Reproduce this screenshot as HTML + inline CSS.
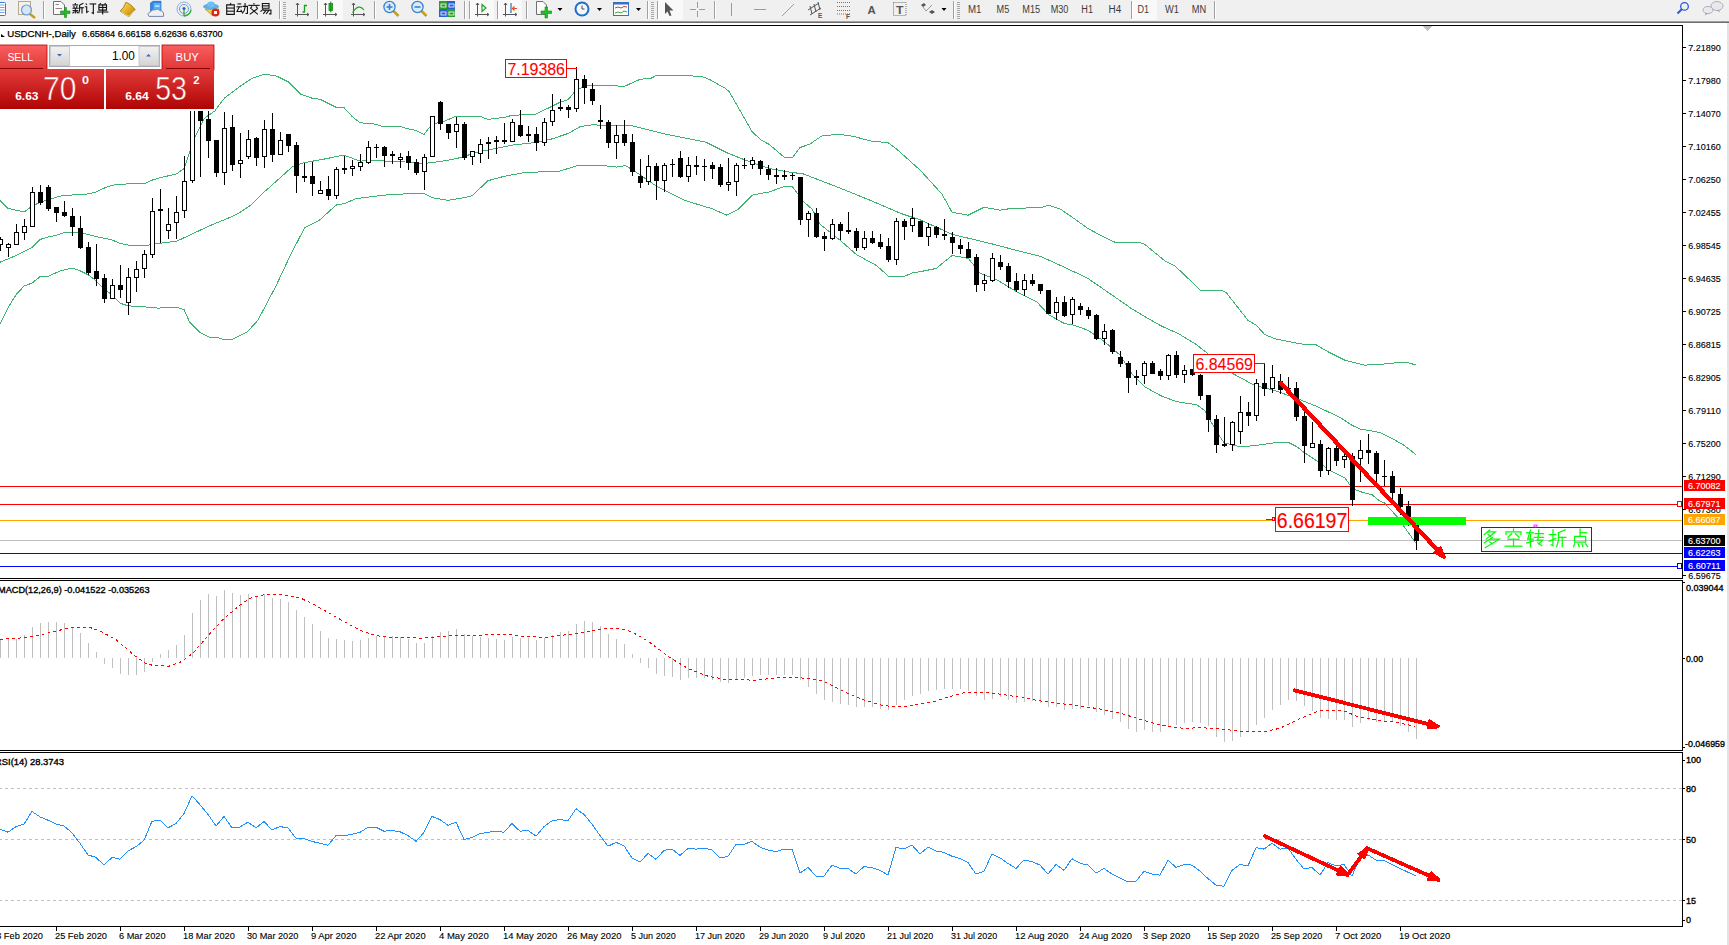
<!DOCTYPE html><html><head><meta charset="utf-8"><style>
html,body{margin:0;padding:0;width:1729px;height:945px;overflow:hidden;background:#fff;}
body{font-family:"Liberation Sans", sans-serif;position:relative;}
.t{position:absolute;white-space:nowrap;line-height:1;}
</style></head><body>
<svg width="1729" height="945" viewBox="0 0 1729 945" style="position:absolute;left:0;top:0">
<rect x="0" y="0" width="1729" height="21" fill="#f0f0f0"/>
<rect x="0" y="21" width="1729" height="1" fill="#a0a0a0"/>
<rect x="0" y="22" width="1729" height="1" fill="#6d6d6d"/>
<rect x="1727" y="23" width="2" height="922" fill="#e3e3e3"/>
<g shape-rendering="crispEdges">
<rect x="0" y="25" width="1683" height="1" fill="#000"/>
<path d="M1422.5,26 L1432.5,26 L1427.5,31 Z" fill="#c0c0c0"/>
<rect x="0" y="578" width="1683" height="1" fill="#000"/>
<rect x="0" y="580" width="1683" height="1" fill="#000"/>
<rect x="0" y="750" width="1683" height="1" fill="#000"/>
<rect x="0" y="752" width="1683" height="1" fill="#000"/>
<rect x="0" y="926" width="1683" height="1" fill="#000"/>
<rect x="1682" y="25" width="1" height="554" fill="#000"/>
<rect x="1682" y="580" width="1" height="171" fill="#000"/>
<rect x="1682" y="752" width="1" height="175" fill="#000"/>
<rect x="0" y="486" width="1682" height="1" fill="#ff0000"/>
<rect x="0" y="504" width="1682" height="1" fill="#ff0000"/>
<rect x="0" y="520" width="1682" height="1" fill="#ffa500"/>
<rect x="0" y="540" width="1682" height="1" fill="#c0c0c0"/>
<rect x="0" y="553" width="1682" height="1" fill="#0000ff"/>
<rect x="0" y="566" width="1682" height="1" fill="#0000ff"/>
<rect x="1677.5" y="501.5" width="4" height="5" fill="#fff" stroke="#ff0000" stroke-width="1"/>
<rect x="1677.5" y="563.5" width="4" height="5" fill="#fff" stroke="#0000ff" stroke-width="1"/>
</g>
<defs><clipPath id="cm"><rect x="0" y="26" width="1682" height="552"/></clipPath>
<clipPath id="cmacd"><rect x="0" y="581" width="1682" height="169"/></clipPath>
<clipPath id="crsi"><rect x="0" y="753" width="1682" height="173"/></clipPath></defs>
<g clip-path="url(#cm)" fill="none" stroke="#3cb371" stroke-width="1" shape-rendering="crispEdges">
<polyline points="0.0,200.3 8.0,208.3 24.0,212.0 32.0,206.3 40.0,202.3 56.0,197.3 64.0,195.3 80.0,194.7 88.0,193.9 96.0,191.9 104.0,188.2 112.0,185.2 128.0,183.8 144.0,183.8 152.0,180.2 160.0,177.6 176.0,174.2 184.2,168.5 190.2,150.5 195.2,136.4 204.3,118.3 214.3,111.3 224.4,98.2 240.4,86.1 252.5,78.1 264.6,74.1 276.6,76.1 288.7,82.1 300.7,94.2 312.0,98.2 320.0,99.2 336.0,107.2 344.0,107.6 352.0,116.3 360.0,122.9 372.0,123.3 384.0,126.9 400.0,126.3 408.0,128.9 416.0,130.4 424.0,134.4 432.0,124.3 444.0,121.3 456.0,116.3 480.0,116.4 488.0,119.4 504.0,117.4 512.0,115.4 536.0,114.0 552.0,106.3 560.0,102.3 568.0,99.7 576.0,90.3 584.0,86.6 592.0,85.2 621.0,86.1 625.0,86.1 640.0,79.3 651.0,78.3 657.0,75.1 668.0,75.1 676.0,75.5 685.0,75.5 702.0,76.6 710.0,79.7 725.0,88.2 729.0,91.4 740.0,110.4 752.0,131.6 761.0,140.0 769.0,144.3 784.0,157.0 793.0,157.0 800.0,147.5 809.5,144.3 822.0,135.8 839.0,134.3 854.0,136.5 871.0,141.1 888.0,142.6 896.0,148.5 920.0,170.0 942.0,194.1 952.0,212.2 968.0,215.2 984.0,207.2 1000.0,210.2 1012.5,208.2 1040.6,207.8 1048.7,205.2 1060.7,209.3 1071.8,216.9 1087.1,227.9 1100.6,235.5 1115.9,242.7 1131.1,242.7 1137.9,242.0 1144.6,244.3 1164.9,260.9 1175.1,266.0 1200.5,290.2 1222.5,290.9 1225.9,292.2 1247.9,320.2 1256.3,325.3 1264.8,334.6 1275.0,338.8 1300.0,343.9 1316.5,345.0 1328.6,352.1 1344.6,360.1 1364.7,365.1 1380.2,364.5 1392.3,363.1 1406.3,362.1 1416.0,365.1"/>
<polyline points="0.0,262.2 16.0,255.6 32.0,247.5 40.0,239.5 48.0,237.0 56.0,235.5 64.0,232.5 76.0,232.5 84.0,233.5 96.0,236.5 112.0,239.9 120.0,243.5 128.0,245.0 144.0,246.0 155.4,243.8 177.0,241.1 209.3,225.9 229.1,217.8 239.9,212.4 250.7,205.2 261.5,194.4 277.7,180.0 292.7,166.5 304.8,162.5 320.0,159.9 344.0,155.1 360.0,161.1 376.0,160.5 392.0,161.5 408.0,162.1 424.0,163.5 440.7,161.5 456.8,158.5 480.0,151.6 496.0,148.5 512.0,145.1 536.0,142.5 552.0,138.9 568.0,133.5 580.6,126.4 592.7,124.8 604.7,125.4 631.7,125.7 663.5,133.7 705.8,142.2 727.0,152.8 748.1,161.2 769.3,168.6 790.5,172.2 803.2,173.9 840.4,188.2 872.6,201.3 900.7,213.4 920.0,219.8 952.2,234.3 992.4,244.0 1016.5,250.4 1040.6,256.4 1060.0,265.2 1087.1,277.9 1114.2,296.5 1131.1,308.3 1148.0,318.5 1161.6,326.1 1178.5,333.7 1195.4,343.9 1207.3,353.2 1232.1,373.2 1254.2,385.2 1274.3,390.3 1296.4,398.3 1316.5,406.3 1340.0,417.4 1352.1,425.4 1360.1,429.0 1380.2,432.5 1392.3,438.5 1404.3,445.5 1416.0,454.6"/>
<polyline points="0.0,324.0 8.0,307.8 16.0,294.8 24.0,286.1 32.0,283.1 40.0,276.7 48.0,276.3 60.0,271.0 72.0,268.0 80.0,270.7 88.0,274.7 96.0,280.7 104.0,288.7 112.0,294.8 120.0,303.2 128.0,305.8 150.0,307.3 159.0,308.2 164.4,307.3 177.0,307.3 184.2,309.8 189.6,322.1 200.4,332.9 209.3,337.3 218.3,337.9 225.5,340.0 232.7,339.1 247.1,332.0 257.9,320.3 275.9,286.1 290.3,255.5 304.6,227.7 320.0,219.8 336.0,205.1 344.0,203.7 356.0,198.7 384.0,195.1 408.0,193.7 424.0,193.3 432.0,197.7 448.0,200.3 464.0,197.7 472.0,195.8 488.0,180.7 504.0,176.3 524.0,172.7 544.0,171.7 560.0,171.1 576.0,166.0 600.0,165.3 616.9,167.1 625.4,165.5 633.9,170.7 657.1,186.6 684.7,200.4 712.2,208.8 727.0,215.2 737.6,209.9 752.4,195.1 769.3,191.9 784.1,186.6 792.4,186.6 798.2,194.3 804.2,202.3 812.3,209.3 820.3,224.4 840.4,240.5 856.5,254.6 876.6,265.6 888.6,276.3 904.7,276.3 912.8,272.7 920.0,271.7 936.1,268.5 952.2,255.4 968.3,258.4 980.3,273.5 996.4,279.5 1016.5,291.6 1036.6,301.7 1048.7,314.7 1064.8,323.8 1072.0,324.5 1088.1,330.3 1104.2,341.4 1120.3,355.4 1132.3,374.5 1144.4,386.6 1160.5,395.6 1176.6,401.7 1196.7,404.7 1204.7,410.7 1216.8,432.0 1224.0,442.7 1240.1,446.9 1256.2,445.5 1276.3,442.5 1288.4,442.5 1296.4,446.5 1304.4,452.6 1316.5,460.6 1328.6,469.6 1344.6,477.7 1352.7,488.7 1360.7,491.8 1372.2,494.8 1380.0,501.2 1384.2,502.8 1396.9,516.4 1402.8,524.8 1415.5,542.6"/>
</g>
<g clip-path="url(#cm)" shape-rendering="crispEdges">
<rect x="0" y="237" width="1" height="14" fill="#000"/>
<rect x="-1.5" y="239.5" width="4" height="5" fill="#fff" stroke="#000" stroke-width="1"/>
<rect x="8" y="243" width="1" height="14" fill="#000"/>
<rect x="6.5" y="244.5" width="4" height="3" fill="#fff" stroke="#000" stroke-width="1"/>
<rect x="16" y="224" width="1" height="21" fill="#000"/>
<rect x="14.5" y="232.5" width="4" height="12" fill="#fff" stroke="#000" stroke-width="1"/>
<rect x="24" y="219" width="1" height="21" fill="#000"/>
<rect x="22.5" y="226.5" width="4" height="6" fill="#fff" stroke="#000" stroke-width="1"/>
<rect x="32" y="187" width="1" height="40" fill="#000"/>
<rect x="30.5" y="192.5" width="4" height="34" fill="#fff" stroke="#000" stroke-width="1"/>
<rect x="40" y="185" width="1" height="20" fill="#000"/>
<rect x="38" y="192" width="5" height="11" fill="#000"/>
<rect x="48" y="185" width="1" height="26" fill="#000"/>
<rect x="46" y="187" width="5" height="22" fill="#000"/>
<rect x="56" y="207" width="1" height="15" fill="#000"/>
<rect x="54" y="207" width="5" height="6" fill="#000"/>
<rect x="64" y="201" width="1" height="16" fill="#000"/>
<rect x="62" y="212" width="5" height="4" fill="#000"/>
<rect x="72" y="208" width="1" height="28" fill="#000"/>
<rect x="70" y="216" width="5" height="11" fill="#000"/>
<rect x="80" y="216" width="1" height="33" fill="#000"/>
<rect x="78" y="228" width="5" height="20" fill="#000"/>
<rect x="88" y="242" width="1" height="33" fill="#000"/>
<rect x="86" y="247" width="5" height="26" fill="#000"/>
<rect x="96" y="244" width="1" height="42" fill="#000"/>
<rect x="94" y="271" width="5" height="8" fill="#000"/>
<rect x="104" y="274" width="1" height="29" fill="#000"/>
<rect x="102" y="278" width="5" height="21" fill="#000"/>
<rect x="112" y="279" width="1" height="20" fill="#000"/>
<rect x="110.5" y="285.5" width="4" height="13" fill="#fff" stroke="#000" stroke-width="1"/>
<rect x="120" y="265" width="1" height="33" fill="#000"/>
<rect x="118" y="285" width="5" height="5" fill="#000"/>
<rect x="128" y="268" width="1" height="47" fill="#000"/>
<rect x="126.5" y="277.5" width="4" height="25" fill="#fff" stroke="#000" stroke-width="1"/>
<rect x="136" y="261" width="1" height="31" fill="#000"/>
<rect x="134.5" y="269.5" width="4" height="8" fill="#fff" stroke="#000" stroke-width="1"/>
<rect x="144" y="250" width="1" height="28" fill="#000"/>
<rect x="142.5" y="254.5" width="4" height="14" fill="#fff" stroke="#000" stroke-width="1"/>
<rect x="152" y="198" width="1" height="60" fill="#000"/>
<rect x="150.5" y="211.5" width="4" height="43" fill="#fff" stroke="#000" stroke-width="1"/>
<rect x="160" y="189" width="1" height="54" fill="#000"/>
<rect x="158" y="209" width="5" height="2" fill="#000"/>
<rect x="168" y="208" width="1" height="31" fill="#000"/>
<rect x="166.5" y="224.5" width="4" height="6" fill="#fff" stroke="#000" stroke-width="1"/>
<rect x="176" y="196" width="1" height="43" fill="#000"/>
<rect x="174.5" y="212.5" width="4" height="10" fill="#fff" stroke="#000" stroke-width="1"/>
<rect x="184" y="156" width="1" height="62" fill="#000"/>
<rect x="182.5" y="181.5" width="4" height="29" fill="#fff" stroke="#000" stroke-width="1"/>
<rect x="192" y="92" width="1" height="91" fill="#000"/>
<rect x="190.5" y="98.5" width="4" height="82" fill="#fff" stroke="#000" stroke-width="1"/>
<rect x="200" y="90" width="1" height="87" fill="#000"/>
<rect x="198" y="96" width="5" height="25" fill="#000"/>
<rect x="208" y="111" width="1" height="47" fill="#000"/>
<rect x="206" y="119" width="5" height="22" fill="#000"/>
<rect x="216" y="140" width="1" height="37" fill="#000"/>
<rect x="214" y="140" width="5" height="33" fill="#000"/>
<rect x="224" y="112" width="1" height="73" fill="#000"/>
<rect x="222.5" y="128.5" width="4" height="44" fill="#fff" stroke="#000" stroke-width="1"/>
<rect x="232" y="115" width="1" height="56" fill="#000"/>
<rect x="230" y="127" width="5" height="38" fill="#000"/>
<rect x="240" y="133" width="1" height="45" fill="#000"/>
<rect x="238.5" y="160.5" width="4" height="3" fill="#fff" stroke="#000" stroke-width="1"/>
<rect x="248" y="130" width="1" height="29" fill="#000"/>
<rect x="246.5" y="139.5" width="4" height="17" fill="#fff" stroke="#000" stroke-width="1"/>
<rect x="256" y="137" width="1" height="29" fill="#000"/>
<rect x="254" y="138" width="5" height="20" fill="#000"/>
<rect x="264" y="120" width="1" height="48" fill="#000"/>
<rect x="262.5" y="129.5" width="4" height="27" fill="#fff" stroke="#000" stroke-width="1"/>
<rect x="272" y="113" width="1" height="49" fill="#000"/>
<rect x="270" y="129" width="5" height="26" fill="#000"/>
<rect x="280" y="132" width="1" height="23" fill="#000"/>
<rect x="278.5" y="140.5" width="4" height="14" fill="#fff" stroke="#000" stroke-width="1"/>
<rect x="288" y="134" width="1" height="18" fill="#000"/>
<rect x="286" y="134" width="5" height="12" fill="#000"/>
<rect x="296" y="142" width="1" height="51" fill="#000"/>
<rect x="294" y="145" width="5" height="31" fill="#000"/>
<rect x="304" y="163" width="1" height="19" fill="#000"/>
<rect x="302" y="176" width="5" height="2" fill="#000"/>
<rect x="312" y="162" width="1" height="34" fill="#000"/>
<rect x="310" y="176" width="5" height="8" fill="#000"/>
<rect x="320" y="181" width="1" height="13" fill="#000"/>
<rect x="318.5" y="190.5" width="4" height="3" fill="#fff" stroke="#000" stroke-width="1"/>
<rect x="328" y="176" width="1" height="24" fill="#000"/>
<rect x="326" y="189" width="5" height="7" fill="#000"/>
<rect x="336" y="167" width="1" height="32" fill="#000"/>
<rect x="334.5" y="169.5" width="4" height="26" fill="#fff" stroke="#000" stroke-width="1"/>
<rect x="344" y="156" width="1" height="18" fill="#000"/>
<rect x="342" y="168" width="5" height="2" fill="#000"/>
<rect x="352" y="160" width="1" height="16" fill="#000"/>
<rect x="350.5" y="166.5" width="4" height="2" fill="#fff" stroke="#000" stroke-width="1"/>
<rect x="360" y="154" width="1" height="17" fill="#000"/>
<rect x="358.5" y="162.5" width="4" height="4" fill="#fff" stroke="#000" stroke-width="1"/>
<rect x="368" y="141" width="1" height="23" fill="#000"/>
<rect x="366.5" y="147.5" width="4" height="15" fill="#fff" stroke="#000" stroke-width="1"/>
<rect x="376" y="144" width="1" height="14" fill="#000"/>
<rect x="374" y="147" width="5" height="1" fill="#000"/>
<rect x="384" y="146" width="1" height="21" fill="#000"/>
<rect x="382" y="147" width="5" height="9" fill="#000"/>
<rect x="392" y="151" width="1" height="13" fill="#000"/>
<rect x="390" y="154" width="5" height="2" fill="#000"/>
<rect x="400" y="153" width="1" height="15" fill="#000"/>
<rect x="398.5" y="157.5" width="4" height="2" fill="#fff" stroke="#000" stroke-width="1"/>
<rect x="408" y="151" width="1" height="19" fill="#000"/>
<rect x="406" y="156" width="5" height="7" fill="#000"/>
<rect x="416" y="159" width="1" height="16" fill="#000"/>
<rect x="414" y="162" width="5" height="11" fill="#000"/>
<rect x="424" y="154" width="1" height="36" fill="#000"/>
<rect x="422.5" y="157.5" width="4" height="14" fill="#fff" stroke="#000" stroke-width="1"/>
<rect x="432" y="116" width="1" height="41" fill="#000"/>
<rect x="430.5" y="116.5" width="4" height="40" fill="#fff" stroke="#000" stroke-width="1"/>
<rect x="440" y="101" width="1" height="29" fill="#000"/>
<rect x="438" y="102" width="5" height="22" fill="#000"/>
<rect x="448" y="124" width="1" height="15" fill="#000"/>
<rect x="446" y="124" width="5" height="9" fill="#000"/>
<rect x="456" y="117" width="1" height="31" fill="#000"/>
<rect x="454.5" y="124.5" width="4" height="7" fill="#fff" stroke="#000" stroke-width="1"/>
<rect x="464" y="122" width="1" height="38" fill="#000"/>
<rect x="462" y="124" width="5" height="34" fill="#000"/>
<rect x="472" y="151" width="1" height="14" fill="#000"/>
<rect x="470.5" y="151.5" width="4" height="5" fill="#fff" stroke="#000" stroke-width="1"/>
<rect x="480" y="139" width="1" height="24" fill="#000"/>
<rect x="478.5" y="144.5" width="4" height="9" fill="#fff" stroke="#000" stroke-width="1"/>
<rect x="488" y="137" width="1" height="22" fill="#000"/>
<rect x="486" y="142" width="5" height="2" fill="#000"/>
<rect x="496" y="136" width="1" height="18" fill="#000"/>
<rect x="494" y="140" width="5" height="2" fill="#000"/>
<rect x="504" y="123" width="1" height="21" fill="#000"/>
<rect x="502" y="140" width="5" height="2" fill="#000"/>
<rect x="512" y="119" width="1" height="23" fill="#000"/>
<rect x="510.5" y="122.5" width="4" height="19" fill="#fff" stroke="#000" stroke-width="1"/>
<rect x="520" y="110" width="1" height="27" fill="#000"/>
<rect x="518" y="125" width="5" height="11" fill="#000"/>
<rect x="528" y="126" width="1" height="16" fill="#000"/>
<rect x="526" y="134" width="5" height="2" fill="#000"/>
<rect x="536" y="127" width="1" height="24" fill="#000"/>
<rect x="534" y="134" width="5" height="9" fill="#000"/>
<rect x="544" y="118" width="1" height="28" fill="#000"/>
<rect x="542.5" y="122.5" width="4" height="20" fill="#fff" stroke="#000" stroke-width="1"/>
<rect x="552" y="94" width="1" height="32" fill="#000"/>
<rect x="550.5" y="110.5" width="4" height="11" fill="#fff" stroke="#000" stroke-width="1"/>
<rect x="560" y="99" width="1" height="12" fill="#000"/>
<rect x="558" y="107" width="5" height="2" fill="#000"/>
<rect x="568" y="105" width="1" height="13" fill="#000"/>
<rect x="566" y="107" width="5" height="3" fill="#000"/>
<rect x="576" y="67" width="1" height="45" fill="#000"/>
<rect x="574.5" y="79.5" width="4" height="29" fill="#fff" stroke="#000" stroke-width="1"/>
<rect x="584" y="75" width="1" height="29" fill="#000"/>
<rect x="582" y="79" width="5" height="9" fill="#000"/>
<rect x="592" y="83" width="1" height="22" fill="#000"/>
<rect x="590" y="89" width="5" height="12" fill="#000"/>
<rect x="600" y="105" width="1" height="24" fill="#000"/>
<rect x="598" y="120" width="5" height="2" fill="#000"/>
<rect x="608" y="120" width="1" height="28" fill="#000"/>
<rect x="606" y="122" width="5" height="21" fill="#000"/>
<rect x="616" y="125" width="1" height="34" fill="#000"/>
<rect x="614.5" y="135.5" width="4" height="7" fill="#fff" stroke="#000" stroke-width="1"/>
<rect x="624" y="120" width="1" height="26" fill="#000"/>
<rect x="622" y="134" width="5" height="9" fill="#000"/>
<rect x="632" y="134" width="1" height="42" fill="#000"/>
<rect x="630" y="142" width="5" height="30" fill="#000"/>
<rect x="640" y="159" width="1" height="29" fill="#000"/>
<rect x="638" y="176" width="5" height="7" fill="#000"/>
<rect x="648" y="155" width="1" height="30" fill="#000"/>
<rect x="646.5" y="166.5" width="4" height="15" fill="#fff" stroke="#000" stroke-width="1"/>
<rect x="656" y="163" width="1" height="37" fill="#000"/>
<rect x="654" y="166" width="5" height="15" fill="#000"/>
<rect x="664" y="163" width="1" height="29" fill="#000"/>
<rect x="662.5" y="165.5" width="4" height="15" fill="#fff" stroke="#000" stroke-width="1"/>
<rect x="672" y="159" width="1" height="18" fill="#000"/>
<rect x="670" y="164" width="5" height="1" fill="#000"/>
<rect x="680" y="151" width="1" height="27" fill="#000"/>
<rect x="678" y="158" width="5" height="19" fill="#000"/>
<rect x="688" y="157" width="1" height="25" fill="#000"/>
<rect x="686.5" y="165.5" width="4" height="11" fill="#fff" stroke="#000" stroke-width="1"/>
<rect x="696" y="156" width="1" height="19" fill="#000"/>
<rect x="694" y="165" width="5" height="2" fill="#000"/>
<rect x="704" y="159" width="1" height="22" fill="#000"/>
<rect x="702" y="166" width="5" height="1" fill="#000"/>
<rect x="712" y="162" width="1" height="17" fill="#000"/>
<rect x="710" y="165" width="5" height="4" fill="#000"/>
<rect x="720" y="164" width="1" height="23" fill="#000"/>
<rect x="718" y="167" width="5" height="18" fill="#000"/>
<rect x="728" y="158" width="1" height="33" fill="#000"/>
<rect x="726.5" y="182.5" width="4" height="2" fill="#fff" stroke="#000" stroke-width="1"/>
<rect x="736" y="163" width="1" height="33" fill="#000"/>
<rect x="734.5" y="165.5" width="4" height="16" fill="#fff" stroke="#000" stroke-width="1"/>
<rect x="744" y="158" width="1" height="11" fill="#000"/>
<rect x="742" y="165" width="5" height="1" fill="#000"/>
<rect x="752" y="157" width="1" height="12" fill="#000"/>
<rect x="750.5" y="160.5" width="4" height="4" fill="#fff" stroke="#000" stroke-width="1"/>
<rect x="760" y="160" width="1" height="15" fill="#000"/>
<rect x="758" y="161" width="5" height="8" fill="#000"/>
<rect x="768" y="165" width="1" height="15" fill="#000"/>
<rect x="766" y="169" width="5" height="6" fill="#000"/>
<rect x="776" y="168" width="1" height="16" fill="#000"/>
<rect x="774" y="175" width="5" height="2" fill="#000"/>
<rect x="784" y="170" width="1" height="10" fill="#000"/>
<rect x="782" y="175" width="5" height="2" fill="#000"/>
<rect x="792" y="173" width="1" height="7" fill="#000"/>
<rect x="790" y="175" width="5" height="1" fill="#000"/>
<rect x="800" y="177" width="1" height="48" fill="#000"/>
<rect x="798" y="177" width="5" height="43" fill="#000"/>
<rect x="808" y="211" width="1" height="26" fill="#000"/>
<rect x="806.5" y="213.5" width="4" height="6" fill="#fff" stroke="#000" stroke-width="1"/>
<rect x="816" y="208" width="1" height="30" fill="#000"/>
<rect x="814" y="213" width="5" height="24" fill="#000"/>
<rect x="824" y="232" width="1" height="19" fill="#000"/>
<rect x="822" y="236" width="5" height="3" fill="#000"/>
<rect x="832" y="219" width="1" height="21" fill="#000"/>
<rect x="830.5" y="224.5" width="4" height="14" fill="#fff" stroke="#000" stroke-width="1"/>
<rect x="840" y="222" width="1" height="18" fill="#000"/>
<rect x="838" y="224" width="5" height="7" fill="#000"/>
<rect x="848" y="212" width="1" height="22" fill="#000"/>
<rect x="846" y="230" width="5" height="2" fill="#000"/>
<rect x="856" y="228" width="1" height="23" fill="#000"/>
<rect x="854" y="231" width="5" height="17" fill="#000"/>
<rect x="864" y="231" width="1" height="19" fill="#000"/>
<rect x="862.5" y="238.5" width="4" height="9" fill="#fff" stroke="#000" stroke-width="1"/>
<rect x="872" y="231" width="1" height="13" fill="#000"/>
<rect x="870" y="238" width="5" height="5" fill="#000"/>
<rect x="880" y="234" width="1" height="15" fill="#000"/>
<rect x="878" y="242" width="5" height="5" fill="#000"/>
<rect x="888" y="238" width="1" height="24" fill="#000"/>
<rect x="886" y="246" width="5" height="14" fill="#000"/>
<rect x="896" y="218" width="1" height="47" fill="#000"/>
<rect x="894.5" y="221.5" width="4" height="38" fill="#fff" stroke="#000" stroke-width="1"/>
<rect x="904" y="219" width="1" height="21" fill="#000"/>
<rect x="902" y="221" width="5" height="6" fill="#000"/>
<rect x="912" y="208" width="1" height="24" fill="#000"/>
<rect x="910.5" y="218.5" width="4" height="7" fill="#fff" stroke="#000" stroke-width="1"/>
<rect x="920" y="221" width="1" height="16" fill="#000"/>
<rect x="918" y="221" width="5" height="16" fill="#000"/>
<rect x="928" y="223" width="1" height="23" fill="#000"/>
<rect x="926.5" y="227.5" width="4" height="9" fill="#fff" stroke="#000" stroke-width="1"/>
<rect x="936" y="226" width="1" height="12" fill="#000"/>
<rect x="934" y="227" width="5" height="8" fill="#000"/>
<rect x="944" y="219" width="1" height="21" fill="#000"/>
<rect x="942" y="234" width="5" height="2" fill="#000"/>
<rect x="952" y="232" width="1" height="22" fill="#000"/>
<rect x="950" y="237" width="5" height="6" fill="#000"/>
<rect x="960" y="239" width="1" height="15" fill="#000"/>
<rect x="958" y="245" width="5" height="4" fill="#000"/>
<rect x="968" y="242" width="1" height="16" fill="#000"/>
<rect x="966" y="249" width="5" height="9" fill="#000"/>
<rect x="976" y="254" width="1" height="38" fill="#000"/>
<rect x="974" y="257" width="5" height="28" fill="#000"/>
<rect x="984" y="274" width="1" height="17" fill="#000"/>
<rect x="982.5" y="280.5" width="4" height="3" fill="#fff" stroke="#000" stroke-width="1"/>
<rect x="992" y="253" width="1" height="29" fill="#000"/>
<rect x="990.5" y="258.5" width="4" height="22" fill="#fff" stroke="#000" stroke-width="1"/>
<rect x="1000" y="255" width="1" height="15" fill="#000"/>
<rect x="998" y="262" width="5" height="5" fill="#000"/>
<rect x="1008" y="263" width="1" height="25" fill="#000"/>
<rect x="1006" y="266" width="5" height="16" fill="#000"/>
<rect x="1016" y="273" width="1" height="19" fill="#000"/>
<rect x="1014" y="281" width="5" height="9" fill="#000"/>
<rect x="1024" y="274" width="1" height="22" fill="#000"/>
<rect x="1022.5" y="280.5" width="4" height="9" fill="#fff" stroke="#000" stroke-width="1"/>
<rect x="1032" y="274" width="1" height="12" fill="#000"/>
<rect x="1030" y="280" width="5" height="4" fill="#000"/>
<rect x="1040" y="284" width="1" height="10" fill="#000"/>
<rect x="1038" y="284" width="5" height="7" fill="#000"/>
<rect x="1048" y="290" width="1" height="24" fill="#000"/>
<rect x="1046" y="290" width="5" height="24" fill="#000"/>
<rect x="1056" y="297" width="1" height="23" fill="#000"/>
<rect x="1054.5" y="302.5" width="4" height="10" fill="#fff" stroke="#000" stroke-width="1"/>
<rect x="1064" y="296" width="1" height="21" fill="#000"/>
<rect x="1062" y="302" width="5" height="14" fill="#000"/>
<rect x="1072" y="297" width="1" height="27" fill="#000"/>
<rect x="1070.5" y="299.5" width="4" height="15" fill="#fff" stroke="#000" stroke-width="1"/>
<rect x="1080" y="303" width="1" height="12" fill="#000"/>
<rect x="1078" y="306" width="5" height="4" fill="#000"/>
<rect x="1088" y="307" width="1" height="12" fill="#000"/>
<rect x="1086" y="310" width="5" height="6" fill="#000"/>
<rect x="1096" y="314" width="1" height="26" fill="#000"/>
<rect x="1094" y="315" width="5" height="24" fill="#000"/>
<rect x="1104" y="324" width="1" height="21" fill="#000"/>
<rect x="1102.5" y="331.5" width="4" height="7" fill="#fff" stroke="#000" stroke-width="1"/>
<rect x="1112" y="329" width="1" height="25" fill="#000"/>
<rect x="1110" y="330" width="5" height="22" fill="#000"/>
<rect x="1120" y="351" width="1" height="16" fill="#000"/>
<rect x="1118" y="357" width="5" height="7" fill="#000"/>
<rect x="1128" y="361" width="1" height="32" fill="#000"/>
<rect x="1126" y="363" width="5" height="15" fill="#000"/>
<rect x="1136" y="370" width="1" height="15" fill="#000"/>
<rect x="1134" y="376" width="5" height="2" fill="#000"/>
<rect x="1144" y="361" width="1" height="23" fill="#000"/>
<rect x="1142.5" y="363.5" width="4" height="12" fill="#fff" stroke="#000" stroke-width="1"/>
<rect x="1152" y="361" width="1" height="13" fill="#000"/>
<rect x="1150" y="363" width="5" height="11" fill="#000"/>
<rect x="1160" y="369" width="1" height="11" fill="#000"/>
<rect x="1158" y="371" width="5" height="5" fill="#000"/>
<rect x="1168" y="354" width="1" height="26" fill="#000"/>
<rect x="1166.5" y="355.5" width="4" height="20" fill="#fff" stroke="#000" stroke-width="1"/>
<rect x="1176" y="351" width="1" height="27" fill="#000"/>
<rect x="1174" y="355" width="5" height="20" fill="#000"/>
<rect x="1184" y="365" width="1" height="18" fill="#000"/>
<rect x="1182.5" y="370.5" width="4" height="4" fill="#fff" stroke="#000" stroke-width="1"/>
<rect x="1192" y="369" width="1" height="7" fill="#000"/>
<rect x="1190" y="369" width="5" height="6" fill="#000"/>
<rect x="1200" y="374" width="1" height="26" fill="#000"/>
<rect x="1198" y="375" width="5" height="21" fill="#000"/>
<rect x="1208" y="395" width="1" height="37" fill="#000"/>
<rect x="1206" y="395" width="5" height="25" fill="#000"/>
<rect x="1216" y="415" width="1" height="38" fill="#000"/>
<rect x="1214" y="419" width="5" height="26" fill="#000"/>
<rect x="1224" y="417" width="1" height="30" fill="#000"/>
<rect x="1222" y="444" width="5" height="2" fill="#000"/>
<rect x="1232" y="421" width="1" height="30" fill="#000"/>
<rect x="1230.5" y="422.5" width="4" height="22" fill="#fff" stroke="#000" stroke-width="1"/>
<rect x="1240" y="396" width="1" height="48" fill="#000"/>
<rect x="1238.5" y="412.5" width="4" height="19" fill="#fff" stroke="#000" stroke-width="1"/>
<rect x="1248" y="402" width="1" height="24" fill="#000"/>
<rect x="1246" y="412" width="5" height="4" fill="#000"/>
<rect x="1256" y="379" width="1" height="42" fill="#000"/>
<rect x="1254.5" y="383.5" width="4" height="32" fill="#fff" stroke="#000" stroke-width="1"/>
<rect x="1264" y="364" width="1" height="32" fill="#000"/>
<rect x="1262" y="383" width="5" height="6" fill="#000"/>
<rect x="1272" y="365" width="1" height="28" fill="#000"/>
<rect x="1270.5" y="377.5" width="4" height="11" fill="#fff" stroke="#000" stroke-width="1"/>
<rect x="1280" y="374" width="1" height="20" fill="#000"/>
<rect x="1278" y="381" width="5" height="9" fill="#000"/>
<rect x="1288" y="377" width="1" height="12" fill="#000"/>
<rect x="1286" y="388" width="5" height="1" fill="#000"/>
<rect x="1296" y="382" width="1" height="39" fill="#000"/>
<rect x="1294" y="388" width="5" height="29" fill="#000"/>
<rect x="1304" y="411" width="1" height="52" fill="#000"/>
<rect x="1302" y="416" width="5" height="30" fill="#000"/>
<rect x="1312" y="422" width="1" height="26" fill="#000"/>
<rect x="1310.5" y="443.5" width="4" height="4" fill="#fff" stroke="#000" stroke-width="1"/>
<rect x="1320" y="440" width="1" height="37" fill="#000"/>
<rect x="1318" y="444" width="5" height="27" fill="#000"/>
<rect x="1328" y="447" width="1" height="28" fill="#000"/>
<rect x="1326.5" y="448.5" width="4" height="22" fill="#fff" stroke="#000" stroke-width="1"/>
<rect x="1336" y="445" width="1" height="21" fill="#000"/>
<rect x="1334" y="448" width="5" height="13" fill="#000"/>
<rect x="1344" y="448" width="1" height="20" fill="#000"/>
<rect x="1342.5" y="456.5" width="4" height="3" fill="#fff" stroke="#000" stroke-width="1"/>
<rect x="1352" y="453" width="1" height="53" fill="#000"/>
<rect x="1350" y="456" width="5" height="44" fill="#000"/>
<rect x="1360" y="440" width="1" height="42" fill="#000"/>
<rect x="1358.5" y="450.5" width="4" height="8" fill="#fff" stroke="#000" stroke-width="1"/>
<rect x="1368" y="434" width="1" height="30" fill="#000"/>
<rect x="1366" y="450" width="5" height="3" fill="#000"/>
<rect x="1376" y="451" width="1" height="32" fill="#000"/>
<rect x="1374" y="453" width="5" height="21" fill="#000"/>
<rect x="1384" y="460" width="1" height="26" fill="#000"/>
<rect x="1382" y="476" width="5" height="1" fill="#000"/>
<rect x="1392" y="471" width="1" height="28" fill="#000"/>
<rect x="1390" y="476" width="5" height="17" fill="#000"/>
<rect x="1400" y="488" width="1" height="27" fill="#000"/>
<rect x="1398" y="494" width="5" height="13" fill="#000"/>
<rect x="1408" y="501" width="1" height="25" fill="#000"/>
<rect x="1406" y="506" width="5" height="11" fill="#000"/>
<rect x="1416" y="520" width="1" height="30" fill="#000"/>
<rect x="1414" y="525" width="5" height="16" fill="#000"/>
</g>
<g clip-path="url(#cmacd)" shape-rendering="crispEdges" fill="#c0c0c0">
<rect x="0" y="640" width="1" height="18"/>
<rect x="8" y="639" width="1" height="19"/>
<rect x="16" y="639" width="1" height="19"/>
<rect x="24" y="635" width="1" height="23"/>
<rect x="32" y="627" width="1" height="31"/>
<rect x="40" y="623" width="1" height="35"/>
<rect x="48" y="622" width="1" height="36"/>
<rect x="56" y="622" width="1" height="36"/>
<rect x="64" y="623" width="1" height="35"/>
<rect x="72" y="628" width="1" height="30"/>
<rect x="80" y="633" width="1" height="25"/>
<rect x="88" y="643" width="1" height="15"/>
<rect x="96" y="652" width="1" height="6"/>
<rect x="104" y="658" width="1" height="6"/>
<rect x="112" y="658" width="1" height="10"/>
<rect x="120" y="658" width="1" height="16"/>
<rect x="128" y="658" width="1" height="17"/>
<rect x="136" y="658" width="1" height="17"/>
<rect x="144" y="658" width="1" height="14"/>
<rect x="152" y="658" width="1" height="4"/>
<rect x="160" y="654" width="1" height="4"/>
<rect x="168" y="650" width="1" height="8"/>
<rect x="176" y="645" width="1" height="13"/>
<rect x="184" y="635" width="1" height="23"/>
<rect x="192" y="613" width="1" height="45"/>
<rect x="200" y="600" width="1" height="58"/>
<rect x="208" y="594" width="1" height="64"/>
<rect x="216" y="596" width="1" height="62"/>
<rect x="224" y="590" width="1" height="68"/>
<rect x="232" y="593" width="1" height="65"/>
<rect x="240" y="595" width="1" height="63"/>
<rect x="248" y="594" width="1" height="64"/>
<rect x="256" y="596" width="1" height="62"/>
<rect x="264" y="594" width="1" height="64"/>
<rect x="272" y="598" width="1" height="60"/>
<rect x="280" y="599" width="1" height="59"/>
<rect x="288" y="602" width="1" height="56"/>
<rect x="296" y="610" width="1" height="48"/>
<rect x="304" y="617" width="1" height="41"/>
<rect x="312" y="624" width="1" height="34"/>
<rect x="320" y="631" width="1" height="27"/>
<rect x="328" y="638" width="1" height="20"/>
<rect x="336" y="639" width="1" height="19"/>
<rect x="344" y="640" width="1" height="18"/>
<rect x="352" y="641" width="1" height="17"/>
<rect x="360" y="640" width="1" height="18"/>
<rect x="368" y="638" width="1" height="20"/>
<rect x="376" y="636" width="1" height="22"/>
<rect x="384" y="636" width="1" height="22"/>
<rect x="392" y="636" width="1" height="22"/>
<rect x="400" y="637" width="1" height="21"/>
<rect x="408" y="639" width="1" height="19"/>
<rect x="416" y="643" width="1" height="15"/>
<rect x="424" y="643" width="1" height="15"/>
<rect x="432" y="636" width="1" height="22"/>
<rect x="440" y="632" width="1" height="26"/>
<rect x="448" y="631" width="1" height="27"/>
<rect x="456" y="629" width="1" height="29"/>
<rect x="464" y="634" width="1" height="24"/>
<rect x="472" y="636" width="1" height="22"/>
<rect x="480" y="637" width="1" height="21"/>
<rect x="488" y="638" width="1" height="20"/>
<rect x="496" y="639" width="1" height="19"/>
<rect x="504" y="640" width="1" height="18"/>
<rect x="512" y="637" width="1" height="21"/>
<rect x="520" y="638" width="1" height="20"/>
<rect x="528" y="638" width="1" height="20"/>
<rect x="536" y="640" width="1" height="18"/>
<rect x="544" y="638" width="1" height="20"/>
<rect x="552" y="635" width="1" height="23"/>
<rect x="560" y="632" width="1" height="26"/>
<rect x="568" y="631" width="1" height="27"/>
<rect x="576" y="624" width="1" height="34"/>
<rect x="584" y="621" width="1" height="37"/>
<rect x="592" y="622" width="1" height="36"/>
<rect x="600" y="626" width="1" height="32"/>
<rect x="608" y="634" width="1" height="24"/>
<rect x="616" y="639" width="1" height="19"/>
<rect x="624" y="644" width="1" height="14"/>
<rect x="632" y="654" width="1" height="4"/>
<rect x="640" y="658" width="1" height="5"/>
<rect x="648" y="658" width="1" height="10"/>
<rect x="656" y="658" width="1" height="16"/>
<rect x="664" y="658" width="1" height="18"/>
<rect x="672" y="658" width="1" height="19"/>
<rect x="680" y="658" width="1" height="22"/>
<rect x="688" y="658" width="1" height="20"/>
<rect x="696" y="658" width="1" height="20"/>
<rect x="704" y="658" width="1" height="20"/>
<rect x="712" y="658" width="1" height="22"/>
<rect x="720" y="658" width="1" height="24"/>
<rect x="728" y="658" width="1" height="25"/>
<rect x="736" y="658" width="1" height="22"/>
<rect x="744" y="658" width="1" height="20"/>
<rect x="752" y="658" width="1" height="18"/>
<rect x="760" y="658" width="1" height="17"/>
<rect x="768" y="658" width="1" height="17"/>
<rect x="776" y="658" width="1" height="17"/>
<rect x="784" y="658" width="1" height="17"/>
<rect x="792" y="658" width="1" height="17"/>
<rect x="800" y="658" width="1" height="22"/>
<rect x="808" y="658" width="1" height="29"/>
<rect x="816" y="658" width="1" height="36"/>
<rect x="824" y="658" width="1" height="42"/>
<rect x="832" y="658" width="1" height="44"/>
<rect x="840" y="658" width="1" height="46"/>
<rect x="848" y="658" width="1" height="47"/>
<rect x="856" y="658" width="1" height="49"/>
<rect x="864" y="658" width="1" height="49"/>
<rect x="872" y="658" width="1" height="49"/>
<rect x="880" y="658" width="1" height="51"/>
<rect x="888" y="658" width="1" height="52"/>
<rect x="896" y="658" width="1" height="47"/>
<rect x="904" y="658" width="1" height="42"/>
<rect x="912" y="658" width="1" height="38"/>
<rect x="920" y="658" width="1" height="36"/>
<rect x="928" y="658" width="1" height="33"/>
<rect x="936" y="658" width="1" height="32"/>
<rect x="944" y="658" width="1" height="31"/>
<rect x="952" y="658" width="1" height="31"/>
<rect x="960" y="658" width="1" height="31"/>
<rect x="968" y="658" width="1" height="33"/>
<rect x="976" y="658" width="1" height="38"/>
<rect x="984" y="658" width="1" height="42"/>
<rect x="992" y="658" width="1" height="41"/>
<rect x="1000" y="658" width="1" height="39"/>
<rect x="1008" y="658" width="1" height="42"/>
<rect x="1016" y="658" width="1" height="45"/>
<rect x="1024" y="658" width="1" height="44"/>
<rect x="1032" y="658" width="1" height="43"/>
<rect x="1040" y="658" width="1" height="45"/>
<rect x="1048" y="658" width="1" height="49"/>
<rect x="1056" y="658" width="1" height="49"/>
<rect x="1064" y="658" width="1" height="52"/>
<rect x="1072" y="658" width="1" height="51"/>
<rect x="1080" y="658" width="1" height="51"/>
<rect x="1088" y="658" width="1" height="48"/>
<rect x="1096" y="658" width="1" height="54"/>
<rect x="1104" y="658" width="1" height="57"/>
<rect x="1112" y="658" width="1" height="61"/>
<rect x="1120" y="658" width="1" height="64"/>
<rect x="1128" y="658" width="1" height="71"/>
<rect x="1136" y="658" width="1" height="74"/>
<rect x="1144" y="658" width="1" height="72"/>
<rect x="1152" y="658" width="1" height="74"/>
<rect x="1160" y="658" width="1" height="74"/>
<rect x="1168" y="658" width="1" height="68"/>
<rect x="1176" y="658" width="1" height="67"/>
<rect x="1184" y="658" width="1" height="65"/>
<rect x="1192" y="658" width="1" height="64"/>
<rect x="1200" y="658" width="1" height="65"/>
<rect x="1208" y="658" width="1" height="68"/>
<rect x="1216" y="658" width="1" height="79"/>
<rect x="1224" y="658" width="1" height="84"/>
<rect x="1232" y="658" width="1" height="83"/>
<rect x="1240" y="658" width="1" height="79"/>
<rect x="1248" y="658" width="1" height="74"/>
<rect x="1256" y="658" width="1" height="67"/>
<rect x="1264" y="658" width="1" height="60"/>
<rect x="1272" y="658" width="1" height="52"/>
<rect x="1280" y="658" width="1" height="47"/>
<rect x="1288" y="658" width="1" height="42"/>
<rect x="1296" y="658" width="1" height="43"/>
<rect x="1304" y="658" width="1" height="48"/>
<rect x="1312" y="658" width="1" height="53"/>
<rect x="1320" y="658" width="1" height="60"/>
<rect x="1328" y="658" width="1" height="61"/>
<rect x="1336" y="658" width="1" height="62"/>
<rect x="1344" y="658" width="1" height="62"/>
<rect x="1352" y="658" width="1" height="69"/>
<rect x="1360" y="658" width="1" height="65"/>
<rect x="1368" y="658" width="1" height="62"/>
<rect x="1376" y="658" width="1" height="64"/>
<rect x="1384" y="658" width="1" height="64"/>
<rect x="1392" y="658" width="1" height="64"/>
<rect x="1400" y="658" width="1" height="68"/>
<rect x="1408" y="658" width="1" height="74"/>
<rect x="1416" y="658" width="1" height="81"/>
</g>
<g clip-path="url(#cmacd)"><polyline points="0.0,639.2 19.0,638.1 35.0,636.2 48.0,632.9 58.0,630.6 71.0,627.5 90.0,627.5 100.0,631.0 116.0,639.6 135.0,656.0 146.0,663.7 154.0,665.6 169.0,666.2 181.0,661.8 193.0,653.1 208.0,635.8 223.0,619.4 239.0,605.9 250.0,598.2 266.0,594.4 281.0,594.4 293.0,596.3 300.0,597.8 315.0,605.0 335.0,616.5 354.0,627.1 363.0,631.5 377.0,635.8 392.0,637.3 421.0,638.1 450.0,635.8 479.0,635.4 489.0,634.4 508.0,634.4 527.0,636.7 546.0,637.3 566.0,634.8 585.0,632.5 596.0,630.0 604.0,628.5 619.0,628.5 632.0,631.9 650.0,642.5 669.0,657.0 688.0,668.5 708.0,676.2 727.0,679.7 756.0,680.1 775.0,678.1 794.0,677.2 813.0,679.1 823.0,681.0 842.0,690.7 862.0,699.3 881.0,705.1 892.0,706.6 907.0,706.1 932.0,702.2 952.0,695.9 965.0,692.6 988.0,692.6 1007.0,695.1 1023.0,697.8 1042.0,701.2 1061.0,703.6 1081.0,706.1 1100.0,709.0 1119.0,712.8 1138.0,718.6 1158.0,724.4 1177.0,727.8 1184.0,728.2 1203.0,727.8 1223.0,729.2 1248.0,732.0 1265.0,731.7 1280.0,728.2 1300.0,718.6 1319.0,710.9 1330.0,709.9 1344.0,710.9 1357.0,716.3 1376.0,720.1 1396.0,722.4 1415.0,726.3" fill="none" stroke="#ff0000" stroke-width="1" stroke-dasharray="3,3" shape-rendering="crispEdges"/></g>
<g shape-rendering="crispEdges">
<line x1="0" y1="788.5" x2="1682" y2="788.5" stroke="#c0c0c0" stroke-width="1" stroke-dasharray="3,3" stroke-dashoffset="1"/>
<line x1="0" y1="839.5" x2="1682" y2="839.5" stroke="#c0c0c0" stroke-width="1" stroke-dasharray="3,3" stroke-dashoffset="1"/>
<line x1="0" y1="900.5" x2="1682" y2="900.5" stroke="#c0c0c0" stroke-width="1" stroke-dasharray="3,3" stroke-dashoffset="1"/>
</g>
<g clip-path="url(#crsi)"><polyline points="0.0,829.3 8.0,832.2 16.0,826.6 24.0,824.1 32.0,811.5 40.0,816.9 48.0,820.2 56.0,824.1 64.0,826.0 72.0,832.7 80.0,843.3 88.0,854.9 96.0,857.4 104.0,865.1 112.0,857.4 120.0,859.3 128.0,851.0 136.0,846.6 144.0,840.4 152.0,821.2 160.0,820.2 168.0,827.9 176.0,823.5 184.0,813.5 192.0,795.8 200.0,804.8 208.0,814.4 216.0,826.0 224.0,816.4 232.0,827.9 240.0,827.0 248.0,822.1 256.0,827.9 264.0,821.6 272.0,829.8 280.0,826.6 288.0,827.9 296.0,838.3 304.0,838.5 312.0,841.4 320.0,843.3 328.0,845.2 336.0,835.6 344.0,835.6 352.0,834.3 360.0,832.3 368.0,827.3 376.0,827.3 384.0,831.2 392.0,830.4 400.0,831.8 408.0,835.6 416.0,841.4 424.0,832.3 432.0,816.4 440.0,819.6 448.0,825.4 456.0,822.1 464.0,839.5 472.0,837.5 480.0,833.7 488.0,832.3 496.0,831.2 504.0,832.3 512.0,823.5 520.0,831.2 528.0,830.4 536.0,836.2 544.0,826.6 552.0,820.8 560.0,819.6 568.0,820.8 576.0,808.7 584.0,814.4 592.0,824.1 600.0,835.6 608.0,846.2 616.0,842.4 624.0,845.8 632.0,858.1 640.0,862.0 648.0,853.5 656.0,859.3 664.0,850.4 672.0,849.1 680.0,855.5 688.0,848.5 696.0,849.1 704.0,848.1 712.0,850.1 720.0,858.1 728.0,856.2 736.0,844.3 744.0,844.3 752.0,841.4 760.0,847.2 768.0,850.1 776.0,851.6 784.0,849.1 792.0,849.1 800.0,873.2 808.0,867.4 816.0,876.1 824.0,876.1 832.0,865.1 840.0,868.4 848.0,868.4 856.0,874.1 864.0,866.4 872.0,867.8 880.0,870.3 888.0,875.1 896.0,847.2 904.0,849.1 912.0,845.2 920.0,853.9 928.0,847.2 936.0,851.0 944.0,852.4 952.0,856.2 960.0,858.7 968.0,862.6 976.0,874.1 984.0,871.2 992.0,853.9 1000.0,857.8 1008.0,863.5 1016.0,868.4 1024.0,860.1 1032.0,861.6 1040.0,865.1 1048.0,874.1 1056.0,864.5 1064.0,870.3 1072.0,858.7 1080.0,863.2 1088.0,865.1 1096.0,873.2 1104.0,868.4 1112.0,874.1 1120.0,878.0 1128.0,881.8 1136.0,881.3 1144.0,871.2 1152.0,874.1 1160.0,875.1 1168.0,860.1 1176.0,867.4 1184.0,864.5 1192.0,865.1 1200.0,871.2 1208.0,878.6 1216.0,885.1 1224.0,886.3 1232.0,870.3 1240.0,864.5 1248.0,865.9 1256.0,847.7 1264.0,849.1 1272.0,843.3 1280.0,849.1 1288.0,848.1 1296.0,859.3 1304.0,868.9 1312.0,867.4 1320.0,875.1 1328.0,862.6 1336.0,865.9 1344.0,864.5 1352.0,876.1 1360.0,856.8 1368.0,854.9 1376.0,860.1 1384.0,860.7 1392.0,864.5 1400.0,868.4 1408.0,872.2 1416.0,876.1" fill="none" stroke="#1e90ff" stroke-width="1" shape-rendering="crispEdges"/></g>
<g shape-rendering="crispEdges">
<rect x="1683" y="47" width="3" height="1" fill="#000"/>
<rect x="1683" y="80" width="3" height="1" fill="#000"/>
<rect x="1683" y="113" width="3" height="1" fill="#000"/>
<rect x="1683" y="146" width="3" height="1" fill="#000"/>
<rect x="1683" y="179" width="3" height="1" fill="#000"/>
<rect x="1683" y="212" width="3" height="1" fill="#000"/>
<rect x="1683" y="245" width="3" height="1" fill="#000"/>
<rect x="1683" y="278" width="3" height="1" fill="#000"/>
<rect x="1683" y="311" width="3" height="1" fill="#000"/>
<rect x="1683" y="344" width="3" height="1" fill="#000"/>
<rect x="1683" y="377" width="3" height="1" fill="#000"/>
<rect x="1683" y="410" width="3" height="1" fill="#000"/>
<rect x="1683" y="443" width="3" height="1" fill="#000"/>
<rect x="1683" y="476" width="3" height="1" fill="#000"/>
<rect x="1683" y="509" width="3" height="1" fill="#000"/>
<rect x="1683" y="575" width="3" height="1" fill="#000"/>
</g>
<text x="1688.2" y="50.9" font-family="Liberation Sans" font-size="9.9" fill="#000" font-weight="normal" text-anchor="start" textLength="32.6" lengthAdjust="spacingAndGlyphs" stroke="#000" stroke-width="0.12" >7.21890</text>
<text x="1688.2" y="83.88499999999999" font-family="Liberation Sans" font-size="9.9" fill="#000" font-weight="normal" text-anchor="start" textLength="32.6" lengthAdjust="spacingAndGlyphs" stroke="#000" stroke-width="0.12" >7.17980</text>
<text x="1688.2" y="116.87" font-family="Liberation Sans" font-size="9.9" fill="#000" font-weight="normal" text-anchor="start" textLength="32.6" lengthAdjust="spacingAndGlyphs" stroke="#000" stroke-width="0.12" >7.14070</text>
<text x="1688.2" y="149.855" font-family="Liberation Sans" font-size="9.9" fill="#000" font-weight="normal" text-anchor="start" textLength="32.6" lengthAdjust="spacingAndGlyphs" stroke="#000" stroke-width="0.12" >7.10160</text>
<text x="1688.2" y="182.84" font-family="Liberation Sans" font-size="9.9" fill="#000" font-weight="normal" text-anchor="start" textLength="32.6" lengthAdjust="spacingAndGlyphs" stroke="#000" stroke-width="0.12" >7.06250</text>
<text x="1688.2" y="215.82500000000002" font-family="Liberation Sans" font-size="9.9" fill="#000" font-weight="normal" text-anchor="start" textLength="32.6" lengthAdjust="spacingAndGlyphs" stroke="#000" stroke-width="0.12" >7.02455</text>
<text x="1688.2" y="248.81" font-family="Liberation Sans" font-size="9.9" fill="#000" font-weight="normal" text-anchor="start" textLength="32.6" lengthAdjust="spacingAndGlyphs" stroke="#000" stroke-width="0.12" >6.98545</text>
<text x="1688.2" y="281.79499999999996" font-family="Liberation Sans" font-size="9.9" fill="#000" font-weight="normal" text-anchor="start" textLength="32.6" lengthAdjust="spacingAndGlyphs" stroke="#000" stroke-width="0.12" >6.94635</text>
<text x="1688.2" y="314.78" font-family="Liberation Sans" font-size="9.9" fill="#000" font-weight="normal" text-anchor="start" textLength="32.6" lengthAdjust="spacingAndGlyphs" stroke="#000" stroke-width="0.12" >6.90725</text>
<text x="1688.2" y="347.765" font-family="Liberation Sans" font-size="9.9" fill="#000" font-weight="normal" text-anchor="start" textLength="32.6" lengthAdjust="spacingAndGlyphs" stroke="#000" stroke-width="0.12" >6.86815</text>
<text x="1688.2" y="380.75" font-family="Liberation Sans" font-size="9.9" fill="#000" font-weight="normal" text-anchor="start" textLength="32.6" lengthAdjust="spacingAndGlyphs" stroke="#000" stroke-width="0.12" >6.82905</text>
<text x="1688.2" y="413.73499999999996" font-family="Liberation Sans" font-size="9.9" fill="#000" font-weight="normal" text-anchor="start" textLength="32.6" lengthAdjust="spacingAndGlyphs" stroke="#000" stroke-width="0.12" >6.79110</text>
<text x="1688.2" y="446.71999999999997" font-family="Liberation Sans" font-size="9.9" fill="#000" font-weight="normal" text-anchor="start" textLength="32.6" lengthAdjust="spacingAndGlyphs" stroke="#000" stroke-width="0.12" >6.75200</text>
<text x="1688.2" y="479.705" font-family="Liberation Sans" font-size="9.9" fill="#000" font-weight="normal" text-anchor="start" textLength="32.6" lengthAdjust="spacingAndGlyphs" stroke="#000" stroke-width="0.12" >6.71290</text>
<text x="1688.2" y="512.6899999999999" font-family="Liberation Sans" font-size="9.9" fill="#000" font-weight="normal" text-anchor="start" textLength="32.6" lengthAdjust="spacingAndGlyphs" stroke="#000" stroke-width="0.12" >6.67380</text>
<text x="1688.2" y="579" font-family="Liberation Sans" font-size="9.9" fill="#000" font-weight="normal" text-anchor="start" textLength="32.6" lengthAdjust="spacingAndGlyphs" stroke="#000" stroke-width="0.12" >6.59675</text>
<rect x="1684" y="480" width="41" height="11" fill="#ff0000" shape-rendering="crispEdges"/>
<text x="1688" y="489" font-family="Liberation Sans" font-size="9.9" fill="#fff" font-weight="normal" text-anchor="start" textLength="32.6" lengthAdjust="spacingAndGlyphs" stroke="#fff" stroke-width="0.12" >6.70082</text>
<rect x="1684" y="498" width="41" height="11" fill="#ff0000" shape-rendering="crispEdges"/>
<text x="1688" y="507" font-family="Liberation Sans" font-size="9.9" fill="#fff" font-weight="normal" text-anchor="start" textLength="32.6" lengthAdjust="spacingAndGlyphs" stroke="#fff" stroke-width="0.12" >6.67971</text>
<rect x="1684" y="514" width="41" height="11" fill="#ffa500" shape-rendering="crispEdges"/>
<text x="1688" y="523" font-family="Liberation Sans" font-size="9.9" fill="#fff" font-weight="normal" text-anchor="start" textLength="32.6" lengthAdjust="spacingAndGlyphs" stroke="#fff" stroke-width="0.12" >6.66087</text>
<rect x="1684" y="535" width="41" height="11" fill="#000000" shape-rendering="crispEdges"/>
<text x="1688" y="544" font-family="Liberation Sans" font-size="9.9" fill="#fff" font-weight="normal" text-anchor="start" textLength="32.6" lengthAdjust="spacingAndGlyphs" stroke="#fff" stroke-width="0.12" >6.63700</text>
<rect x="1684" y="547" width="41" height="11" fill="#0000ff" shape-rendering="crispEdges"/>
<text x="1688" y="556" font-family="Liberation Sans" font-size="9.9" fill="#fff" font-weight="normal" text-anchor="start" textLength="32.6" lengthAdjust="spacingAndGlyphs" stroke="#fff" stroke-width="0.12" >6.62263</text>
<rect x="1684" y="560" width="41" height="11" fill="#0000ff" shape-rendering="crispEdges"/>
<text x="1688" y="569" font-family="Liberation Sans" font-size="9.9" fill="#fff" font-weight="normal" text-anchor="start" textLength="32.6" lengthAdjust="spacingAndGlyphs" stroke="#fff" stroke-width="0.12" >6.60711</text>
<g shape-rendering="crispEdges"><rect x="1683" y="582" width="2" height="1" fill="#000"/><rect x="1683" y="658" width="2" height="1" fill="#000"/><rect x="1683" y="747" width="2" height="1" fill="#000"/></g>
<text x="1686" y="590.5" font-family="Liberation Sans" font-size="9" fill="#000" font-weight="normal" text-anchor="start" textLength="37.5" lengthAdjust="spacingAndGlyphs" stroke="#000" stroke-width="0.35" >0.039044</text>
<text x="1686" y="662" font-family="Liberation Sans" font-size="9" fill="#000" font-weight="normal" text-anchor="start" textLength="17" lengthAdjust="spacingAndGlyphs" stroke="#000" stroke-width="0.35" >0.00</text>
<text x="1685" y="747" font-family="Liberation Sans" font-size="9" fill="#000" font-weight="normal" text-anchor="start" textLength="40" lengthAdjust="spacingAndGlyphs" stroke="#000" stroke-width="0.35" >-0.046959</text>
<g shape-rendering="crispEdges">
<rect x="1683" y="760" width="2" height="1" fill="#000"/>
<rect x="1683" y="788" width="2" height="1" fill="#000"/>
<rect x="1683" y="839" width="2" height="1" fill="#000"/>
<rect x="1683" y="900" width="2" height="1" fill="#000"/>
<rect x="1683" y="920" width="2" height="1" fill="#000"/>
</g>
<text x="1686" y="762.8" font-family="Liberation Sans" font-size="9" fill="#000" font-weight="normal" text-anchor="start" textLength="15" lengthAdjust="spacingAndGlyphs" stroke="#000" stroke-width="0.35" >100</text>
<text x="1686" y="792" font-family="Liberation Sans" font-size="9" fill="#000" font-weight="normal" text-anchor="start" textLength="10" lengthAdjust="spacingAndGlyphs" stroke="#000" stroke-width="0.35" >80</text>
<text x="1686" y="843" font-family="Liberation Sans" font-size="9" fill="#000" font-weight="normal" text-anchor="start" textLength="10" lengthAdjust="spacingAndGlyphs" stroke="#000" stroke-width="0.35" >50</text>
<text x="1686" y="904" font-family="Liberation Sans" font-size="9" fill="#000" font-weight="normal" text-anchor="start" textLength="10" lengthAdjust="spacingAndGlyphs" stroke="#000" stroke-width="0.35" >15</text>
<text x="1686" y="922.8" font-family="Liberation Sans" font-size="9" fill="#000" font-weight="normal" text-anchor="start" textLength="5" lengthAdjust="spacingAndGlyphs" stroke="#000" stroke-width="0.35" >0</text>
<g shape-rendering="crispEdges">
<rect x="-8" y="927" width="1" height="4" fill="#000"/>
<rect x="56" y="927" width="1" height="4" fill="#000"/>
<rect x="120" y="927" width="1" height="4" fill="#000"/>
<rect x="184" y="927" width="1" height="4" fill="#000"/>
<rect x="248" y="927" width="1" height="4" fill="#000"/>
<rect x="312" y="927" width="1" height="4" fill="#000"/>
<rect x="376" y="927" width="1" height="4" fill="#000"/>
<rect x="440" y="927" width="1" height="4" fill="#000"/>
<rect x="504" y="927" width="1" height="4" fill="#000"/>
<rect x="568" y="927" width="1" height="4" fill="#000"/>
<rect x="632" y="927" width="1" height="4" fill="#000"/>
<rect x="696" y="927" width="1" height="4" fill="#000"/>
<rect x="760" y="927" width="1" height="4" fill="#000"/>
<rect x="824" y="927" width="1" height="4" fill="#000"/>
<rect x="888" y="927" width="1" height="4" fill="#000"/>
<rect x="952" y="927" width="1" height="4" fill="#000"/>
<rect x="1016" y="927" width="1" height="4" fill="#000"/>
<rect x="1080" y="927" width="1" height="4" fill="#000"/>
<rect x="1144" y="927" width="1" height="4" fill="#000"/>
<rect x="1208" y="927" width="1" height="4" fill="#000"/>
<rect x="1272" y="927" width="1" height="4" fill="#000"/>
<rect x="1336" y="927" width="1" height="4" fill="#000"/>
<rect x="1400" y="927" width="1" height="4" fill="#000"/>
</g>
<text x="-9" y="938.9" font-family="Liberation Sans" font-size="9.9" fill="#000" font-weight="normal" text-anchor="start" textLength="52" lengthAdjust="spacingAndGlyphs" stroke="#000" stroke-width="0.12" >13 Feb 2020</text>
<text x="55" y="938.9" font-family="Liberation Sans" font-size="9.9" fill="#000" font-weight="normal" text-anchor="start" textLength="52" lengthAdjust="spacingAndGlyphs" stroke="#000" stroke-width="0.12" >25 Feb 2020</text>
<text x="119" y="938.9" font-family="Liberation Sans" font-size="9.9" fill="#000" font-weight="normal" text-anchor="start" textLength="46.6" lengthAdjust="spacingAndGlyphs" stroke="#000" stroke-width="0.12" >6 Mar 2020</text>
<text x="183" y="938.9" font-family="Liberation Sans" font-size="9.9" fill="#000" font-weight="normal" text-anchor="start" textLength="51.8" lengthAdjust="spacingAndGlyphs" stroke="#000" stroke-width="0.12" >18 Mar 2020</text>
<text x="247" y="938.9" font-family="Liberation Sans" font-size="9.9" fill="#000" font-weight="normal" text-anchor="start" textLength="51.4" lengthAdjust="spacingAndGlyphs" stroke="#000" stroke-width="0.12" >30 Mar 2020</text>
<text x="311" y="938.9" font-family="Liberation Sans" font-size="9.9" fill="#000" font-weight="normal" text-anchor="start" textLength="45.5" lengthAdjust="spacingAndGlyphs" stroke="#000" stroke-width="0.12" >9 Apr 2020</text>
<text x="375" y="938.9" font-family="Liberation Sans" font-size="9.9" fill="#000" font-weight="normal" text-anchor="start" textLength="50.6" lengthAdjust="spacingAndGlyphs" stroke="#000" stroke-width="0.12" >22 Apr 2020</text>
<text x="439" y="938.9" font-family="Liberation Sans" font-size="9.9" fill="#000" font-weight="normal" text-anchor="start" textLength="49.7" lengthAdjust="spacingAndGlyphs" stroke="#000" stroke-width="0.12" >4 May 2020</text>
<text x="503" y="938.9" font-family="Liberation Sans" font-size="9.9" fill="#000" font-weight="normal" text-anchor="start" textLength="54.3" lengthAdjust="spacingAndGlyphs" stroke="#000" stroke-width="0.12" >14 May 2020</text>
<text x="567" y="938.9" font-family="Liberation Sans" font-size="9.9" fill="#000" font-weight="normal" text-anchor="start" textLength="54.4" lengthAdjust="spacingAndGlyphs" stroke="#000" stroke-width="0.12" >26 May 2020</text>
<text x="631" y="938.9" font-family="Liberation Sans" font-size="9.9" fill="#000" font-weight="normal" text-anchor="start" textLength="44.8" lengthAdjust="spacingAndGlyphs" stroke="#000" stroke-width="0.12" >5 Jun 2020</text>
<text x="695" y="938.9" font-family="Liberation Sans" font-size="9.9" fill="#000" font-weight="normal" text-anchor="start" textLength="49.8" lengthAdjust="spacingAndGlyphs" stroke="#000" stroke-width="0.12" >17 Jun 2020</text>
<text x="759" y="938.9" font-family="Liberation Sans" font-size="9.9" fill="#000" font-weight="normal" text-anchor="start" textLength="49.4" lengthAdjust="spacingAndGlyphs" stroke="#000" stroke-width="0.12" >29 Jun 2020</text>
<text x="823" y="938.9" font-family="Liberation Sans" font-size="9.9" fill="#000" font-weight="normal" text-anchor="start" textLength="42" lengthAdjust="spacingAndGlyphs" stroke="#000" stroke-width="0.12" >9 Jul 2020</text>
<text x="887" y="938.9" font-family="Liberation Sans" font-size="9.9" fill="#000" font-weight="normal" text-anchor="start" textLength="46.3" lengthAdjust="spacingAndGlyphs" stroke="#000" stroke-width="0.12" >21 Jul 2020</text>
<text x="951" y="938.9" font-family="Liberation Sans" font-size="9.9" fill="#000" font-weight="normal" text-anchor="start" textLength="46.3" lengthAdjust="spacingAndGlyphs" stroke="#000" stroke-width="0.12" >31 Jul 2020</text>
<text x="1015" y="938.9" font-family="Liberation Sans" font-size="9.9" fill="#000" font-weight="normal" text-anchor="start" textLength="53.5" lengthAdjust="spacingAndGlyphs" stroke="#000" stroke-width="0.12" >12 Aug 2020</text>
<text x="1079" y="938.9" font-family="Liberation Sans" font-size="9.9" fill="#000" font-weight="normal" text-anchor="start" textLength="52.9" lengthAdjust="spacingAndGlyphs" stroke="#000" stroke-width="0.12" >24 Aug 2020</text>
<text x="1143" y="938.9" font-family="Liberation Sans" font-size="9.9" fill="#000" font-weight="normal" text-anchor="start" textLength="47.4" lengthAdjust="spacingAndGlyphs" stroke="#000" stroke-width="0.12" >3 Sep 2020</text>
<text x="1207" y="938.9" font-family="Liberation Sans" font-size="9.9" fill="#000" font-weight="normal" text-anchor="start" textLength="52" lengthAdjust="spacingAndGlyphs" stroke="#000" stroke-width="0.12" >15 Sep 2020</text>
<text x="1271" y="938.9" font-family="Liberation Sans" font-size="9.9" fill="#000" font-weight="normal" text-anchor="start" textLength="51.4" lengthAdjust="spacingAndGlyphs" stroke="#000" stroke-width="0.12" >25 Sep 2020</text>
<text x="1335" y="938.9" font-family="Liberation Sans" font-size="9.9" fill="#000" font-weight="normal" text-anchor="start" textLength="46.3" lengthAdjust="spacingAndGlyphs" stroke="#000" stroke-width="0.12" >7 Oct 2020</text>
<text x="1399" y="938.9" font-family="Liberation Sans" font-size="9.9" fill="#000" font-weight="normal" text-anchor="start" textLength="51.3" lengthAdjust="spacingAndGlyphs" stroke="#000" stroke-width="0.12" >19 Oct 2020</text>
<path d="M1,34 L5,37 L1,37 Z" fill="#000"/>
<text x="7.2" y="36.8" font-family="Liberation Sans" font-size="9.5" fill="#000" font-weight="normal" text-anchor="start" textLength="68.7" lengthAdjust="spacingAndGlyphs" stroke="#000" stroke-width="0.25" >USDCNH-,Daily</text>
<text x="82.1" y="36.8" font-family="Liberation Sans" font-size="9.5" fill="#000" font-weight="normal" text-anchor="start" textLength="33" lengthAdjust="spacingAndGlyphs" stroke="#000" stroke-width="0.25" >6.65864</text>
<text x="117.8" y="36.8" font-family="Liberation Sans" font-size="9.5" fill="#000" font-weight="normal" text-anchor="start" textLength="33" lengthAdjust="spacingAndGlyphs" stroke="#000" stroke-width="0.25" >6.66158</text>
<text x="154" y="36.8" font-family="Liberation Sans" font-size="9.5" fill="#000" font-weight="normal" text-anchor="start" textLength="33" lengthAdjust="spacingAndGlyphs" stroke="#000" stroke-width="0.25" >6.62636</text>
<text x="189.7" y="36.8" font-family="Liberation Sans" font-size="9.5" fill="#000" font-weight="normal" text-anchor="start" textLength="33" lengthAdjust="spacingAndGlyphs" stroke="#000" stroke-width="0.25" >6.63700</text>
<text x="-2" y="592.5" font-family="Liberation Sans" font-size="9" fill="#000" font-weight="normal" text-anchor="start" textLength="151.5" lengthAdjust="spacingAndGlyphs" stroke="#000" stroke-width="0.35" >MACD(12,26,9) -0.041522 -0.035263</text>
<text x="-5" y="764.7" font-family="Liberation Sans" font-size="9" fill="#000" font-weight="normal" text-anchor="start" textLength="69" lengthAdjust="spacingAndGlyphs" stroke="#000" stroke-width="0.35" >RSI(14) 28.3743</text>
<rect x="505.5" y="59.5" width="61" height="18" fill="#fff" stroke="#ff0000" stroke-width="1" shape-rendering="crispEdges"/>
<path d="M566,68.5 H576.5" stroke="#ff0000" stroke-width="1" shape-rendering="crispEdges" fill="none"/>
<text x="507.4" y="74.6" font-family="Liberation Sans" font-size="16.5" fill="#ff0000" font-weight="normal" text-anchor="start" textLength="57.6" lengthAdjust="spacingAndGlyphs" stroke="#ff0000" stroke-width="0.1" >7.19386</text>
<rect x="1193.5" y="354.5" width="61" height="18" fill="#fff" stroke="#ff0000" stroke-width="1" shape-rendering="crispEdges"/>
<path d="M1254,363.5 H1264.5" stroke="#ff0000" stroke-width="1" shape-rendering="crispEdges" fill="none"/>
<text x="1195.4" y="369.6" font-family="Liberation Sans" font-size="16.5" fill="#ff0000" font-weight="normal" text-anchor="start" textLength="57.6" lengthAdjust="spacingAndGlyphs" stroke="#ff0000" stroke-width="0.1" >6.84569</text>
<rect x="1275.5" y="507.5" width="73" height="24" fill="#fff" stroke="#ff0000" stroke-width="1" shape-rendering="crispEdges"/>
<path d="M1266,519.5 H1275" stroke="#ff0000" stroke-width="1" shape-rendering="crispEdges" fill="none"/>
<rect x="1272.5" y="517.5" width="2" height="3" fill="#fff" stroke="#ff0000" stroke-width="1" shape-rendering="crispEdges"/>
<text x="1276.8" y="528" font-family="Liberation Sans" font-size="22" fill="#ff0000" font-weight="normal" text-anchor="start" textLength="70.5" lengthAdjust="spacingAndGlyphs" stroke="#ff0000" stroke-width="0.2" >6.66197</text>
<rect x="1368" y="517" width="98" height="8" fill="#00ff00" shape-rendering="crispEdges"/>
<line x1="1281" y1="383.5" x2="1439.0" y2="551.6" stroke="#ff0000" stroke-width="4.3" stroke-linecap="round" shape-rendering="crispEdges"/>
<path d="M1444.6,559.4 L1433.1,553.0 L1436.3,548.7 L1440.8,545.8 L1446.4,557.6 Z" fill="#ff0000" shape-rendering="crispEdges"/>
<line x1="1294.5" y1="690.3" x2="1430.8" y2="724.8" stroke="#ff0000" stroke-width="3.8" stroke-linecap="round" shape-rendering="crispEdges"/>
<path d="M1439.2,728.3 L1426.5,729.4 L1426.9,723.8 L1429.2,718.7 L1439.8,725.7 Z" fill="#ff0000" shape-rendering="crispEdges"/>
<line x1="1265" y1="836.2" x2="1340.8" y2="871.7" stroke="#ff0000" stroke-width="3.8" stroke-linecap="round" shape-rendering="crispEdges"/>
<path d="M1348.4,876.7 L1335.8,875.4 L1337.2,870.0 L1340.5,865.4 L1349.6,874.3 Z" fill="#ff0000" shape-rendering="crispEdges"/>
<line x1="1347.5" y1="875" x2="1362.9" y2="854.3" stroke="#ff0000" stroke-width="3.8" stroke-linecap="round" shape-rendering="crispEdges"/>
<path d="M1369.0,848.3 L1365.1,859.7 L1360.5,857.5 L1357.1,853.7 L1367.0,846.7 Z" fill="#ff0000" shape-rendering="crispEdges"/>
<line x1="1367" y1="848.2" x2="1431.8" y2="876.9" stroke="#ff0000" stroke-width="3.8" stroke-linecap="round" shape-rendering="crispEdges"/>
<path d="M1439.5,881.7 L1426.8,880.7 L1428.1,875.2 L1431.3,870.6 L1440.5,879.3 Z" fill="#ff0000" shape-rendering="crispEdges"/>
<rect x="1481.5" y="527.5" width="110" height="24" fill="none" stroke="#333" stroke-width="1" shape-rendering="crispEdges"/>
<rect x="1534" y="525" width="3" height="2" fill="none" stroke="#ff00ff" stroke-width="0.8"/>
<g transform="translate(1482.4,529) scale(0.93)" fill="none" stroke="#00ff00" stroke-width="1.344" stroke-linecap="square" stroke-linejoin="miter">
<path d="M8,1 L2,6"/>
<path d="M6,3 H14 L4,11"/>
<path d="M6,6 L9,8"/>
<path d="M11,9 L2,15"/>
<path d="M9,11 H18 L3,20"/>
<path d="M8,14 L11,16"/>
</g>
<g transform="translate(1504.2,529) scale(0.93)" fill="none" stroke="#00ff00" stroke-width="1.344" stroke-linecap="square" stroke-linejoin="miter">
<path d="M10,0 V2"/>
<path d="M2,6 V3 H18 V6"/>
<path d="M8,5 L4,9"/>
<path d="M12,5 L16,9"/>
<path d="M4,11 H16"/>
<path d="M10,11 V18"/>
<path d="M1,18.5 H19"/>
</g>
<g transform="translate(1525.8,529) scale(0.93)" fill="none" stroke="#00ff00" stroke-width="1.344" stroke-linecap="square" stroke-linejoin="miter">
<path d="M1,4 H8"/>
<path d="M5,1 L2,11 H8"/>
<path d="M5,6 V19"/>
<path d="M1,15 L8,13"/>
<path d="M10,5 H19"/>
<path d="M14,1 L13,12"/>
<path d="M9,9 H19"/>
<path d="M12,12 H18 L14,16"/>
<path d="M13,15 L17,18"/>
</g>
<g transform="translate(1548.3,529) scale(0.93)" fill="none" stroke="#00ff00" stroke-width="1.344" stroke-linecap="square" stroke-linejoin="miter">
<path d="M1,6 H8"/>
<path d="M5,1 V18 L3,17"/>
<path d="M1,13 L8,10"/>
<path d="M18,1 L11,4"/>
<path d="M11,4 V12 L9,19"/>
<path d="M11,9 H19"/>
<path d="M15,9 V19"/>
</g>
<g transform="translate(1570.8,529) scale(0.93)" fill="none" stroke="#00ff00" stroke-width="1.344" stroke-linecap="square" stroke-linejoin="miter">
<path d="M10,0 V8"/>
<path d="M10,4 H17"/>
<path d="M4,8 H16 V14 H4 Z"/>
<path d="M3,19 L4,16"/>
<path d="M8,16 L9,19"/>
<path d="M12,16 L13,19"/>
<path d="M16,16 L18,19"/>
</g>
<g>
<rect x="318" y="0" width="25" height="20" fill="#f9f9f9"/>
<rect x="470" y="0" width="24" height="20" fill="#f9f9f9"/>
<rect x="498" y="0" width="24" height="20" fill="#f9f9f9"/>
<rect x="658" y="0" width="25" height="20" fill="#f9f9f9"/>
<rect x="1131" y="0" width="26" height="20" fill="#f9f9f9"/>
<rect x="43" y="1" width="1" height="18" fill="#a0a0a0"/><rect x="44" y="1" width="1" height="18" fill="#ffffff"/>
<rect x="279" y="1" width="1" height="18" fill="#a0a0a0"/><rect x="280" y="1" width="1" height="18" fill="#ffffff"/>
<rect x="317" y="1" width="1" height="18" fill="#a0a0a0"/><rect x="318" y="1" width="1" height="18" fill="#ffffff"/>
<rect x="374" y="1" width="1" height="18" fill="#a0a0a0"/><rect x="375" y="1" width="1" height="18" fill="#ffffff"/>
<rect x="464" y="1" width="1" height="18" fill="#a0a0a0"/><rect x="465" y="1" width="1" height="18" fill="#ffffff"/>
<rect x="469" y="1" width="1" height="18" fill="#a0a0a0"/><rect x="470" y="1" width="1" height="18" fill="#ffffff"/>
<rect x="497" y="1" width="1" height="18" fill="#a0a0a0"/><rect x="498" y="1" width="1" height="18" fill="#ffffff"/>
<rect x="526" y="1" width="1" height="18" fill="#a0a0a0"/><rect x="527" y="1" width="1" height="18" fill="#ffffff"/>
<rect x="647" y="1" width="1" height="18" fill="#a0a0a0"/><rect x="648" y="1" width="1" height="18" fill="#ffffff"/>
<rect x="657" y="1" width="1" height="18" fill="#a0a0a0"/><rect x="658" y="1" width="1" height="18" fill="#ffffff"/>
<rect x="714" y="1" width="1" height="18" fill="#a0a0a0"/><rect x="715" y="1" width="1" height="18" fill="#ffffff"/>
<rect x="953" y="1" width="1" height="18" fill="#a0a0a0"/><rect x="954" y="1" width="1" height="18" fill="#ffffff"/>
<rect x="1131" y="1" width="1" height="18" fill="#a0a0a0"/><rect x="1132" y="1" width="1" height="18" fill="#ffffff"/>
<rect x="1214" y="1" width="1" height="18" fill="#a0a0a0"/><rect x="1215" y="1" width="1" height="18" fill="#ffffff"/>
<rect x="283" y="2" width="3" height="1" fill="#a8a8a8"/>
<rect x="283" y="4" width="3" height="1" fill="#a8a8a8"/>
<rect x="283" y="6" width="3" height="1" fill="#a8a8a8"/>
<rect x="283" y="8" width="3" height="1" fill="#a8a8a8"/>
<rect x="283" y="10" width="3" height="1" fill="#a8a8a8"/>
<rect x="283" y="12" width="3" height="1" fill="#a8a8a8"/>
<rect x="283" y="14" width="3" height="1" fill="#a8a8a8"/>
<rect x="283" y="16" width="3" height="1" fill="#a8a8a8"/>
<rect x="283" y="18" width="3" height="1" fill="#a8a8a8"/>
<rect x="651" y="2" width="3" height="1" fill="#a8a8a8"/>
<rect x="651" y="4" width="3" height="1" fill="#a8a8a8"/>
<rect x="651" y="6" width="3" height="1" fill="#a8a8a8"/>
<rect x="651" y="8" width="3" height="1" fill="#a8a8a8"/>
<rect x="651" y="10" width="3" height="1" fill="#a8a8a8"/>
<rect x="651" y="12" width="3" height="1" fill="#a8a8a8"/>
<rect x="651" y="14" width="3" height="1" fill="#a8a8a8"/>
<rect x="651" y="16" width="3" height="1" fill="#a8a8a8"/>
<rect x="651" y="18" width="3" height="1" fill="#a8a8a8"/>
<rect x="957" y="2" width="3" height="1" fill="#a8a8a8"/>
<rect x="957" y="4" width="3" height="1" fill="#a8a8a8"/>
<rect x="957" y="6" width="3" height="1" fill="#a8a8a8"/>
<rect x="957" y="8" width="3" height="1" fill="#a8a8a8"/>
<rect x="957" y="10" width="3" height="1" fill="#a8a8a8"/>
<rect x="957" y="12" width="3" height="1" fill="#a8a8a8"/>
<rect x="957" y="14" width="3" height="1" fill="#a8a8a8"/>
<rect x="957" y="16" width="3" height="1" fill="#a8a8a8"/>
<rect x="957" y="18" width="3" height="1" fill="#a8a8a8"/>
<rect x="-3" y="2.5" width="8.5" height="13" rx="1" fill="#fff" stroke="#3b7bd0" stroke-width="1"/>
<line x1="-2" y1="5" x2="4.5" y2="5" stroke="#7aa6e0" stroke-width="1"/>
<line x1="-2" y1="7.5" x2="4.5" y2="7.5" stroke="#7aa6e0" stroke-width="1"/>
<line x1="-2" y1="10" x2="4.5" y2="10" stroke="#7aa6e0" stroke-width="1"/>
<line x1="-2" y1="12.5" x2="4.5" y2="12.5" stroke="#7aa6e0" stroke-width="1"/>
<rect x="18.5" y="1.5" width="12" height="13" fill="#f4f1ea" stroke="#b0a890" stroke-width="1"/>
<circle cx="26.5" cy="10" r="5" fill="#cfe3f3" fill-opacity="0.8" stroke="#6b9fd6" stroke-width="1.2"/>
<line x1="30" y1="14" x2="35" y2="18" stroke="#c89a20" stroke-width="2.4"/>
<path d="M53.5,1.5 H61 L64.5,5 V14.5 H53.5 Z" fill="#fafafa" stroke="#707070" stroke-width="1"/>
<line x1="55.5" y1="4.5" x2="59" y2="4.5" stroke="#888" stroke-width="1"/><line x1="55.5" y1="8.5" x2="62" y2="8.5" stroke="#888" stroke-width="1"/>
<path d="M60.5,11 H64.5 V7.5 H66.5 V11 H70 V13.5 H66.5 V17.5 H64.5 V13.5 H60.5 Z" fill="#1cc41c" stroke="#0e8a0e" stroke-width="0.6"/>
<defs><linearGradient id="gbook" x1="0" y1="0" x2="1" y2="1"><stop offset="0" stop-color="#fbe470"/><stop offset="0.6" stop-color="#e0a818"/><stop offset="1" stop-color="#a87010"/></linearGradient></defs>
<path d="M126,2.2 Q131,4 135.2,9.6 L129,16.6 Q124,14.5 120.2,11 Q124,8 126,2.2 Z" fill="url(#gbook)" stroke="#a06a10" stroke-width="0.8"/>
<path d="M121.5,12 Q125,15 129,16.2 L134.5,10.5" fill="none" stroke="#f0e0b0" stroke-width="0.8"/>
<path d="M150.5,3 L153,1.3 H161 V11 H150.5 Z" fill="#2a8ae8" stroke="#1a5ab0" stroke-width="0.6"/>
<rect x="153.5" y="3" width="7" height="8" fill="#58b0f8"/><rect x="155" y="5.5" width="4.5" height="1.2" fill="#e8f4ff"/>
<path d="M149,16.4 Q146.5,12.8 150.5,12 Q151.5,9 155,9.8 Q157.5,8 160,10.5 Q164.5,11 163.5,16.4 Z" fill="#eef0f6" stroke="#6a7aa0" stroke-width="0.9"/>
<circle cx="184" cy="9" r="7" fill="none" stroke="#8fb0e0" stroke-width="1"/>
<circle cx="184" cy="9" r="4.5" fill="none" stroke="#6a9ad8" stroke-width="1"/>
<circle cx="184" cy="8.5" r="1.6" fill="#2a5ac8"/>
<path d="M184,9 V16 M184,16 Q190,15 191,10" fill="none" stroke="#30b030" stroke-width="1.3"/>
<path d="M205,9 L213,16 L219,9 Z" fill="#f0d040" stroke="#b09020" stroke-width="0.8"/>
<ellipse cx="211" cy="6.5" rx="8" ry="3" fill="#60aee8"/><ellipse cx="211" cy="4.5" rx="4" ry="3" fill="#70bff0"/>
<circle cx="215.5" cy="12.5" r="4" fill="#d42a1a"/><rect x="214" y="11" width="3" height="3" fill="#fff"/>
<path d="M297.5,3 V16.5 M295,14.5 H309 M296,5 L297.5,3 L299,5 M307,13 L309,14.5 L307,16" fill="none" stroke="#555" stroke-width="1"/>
<path d="M302.5,12 H304.5 V5.5 H307" fill="none" stroke="#1aa01a" stroke-width="1.3"/>
<path d="M325.5,3 V16.5 M323,14.5 H337 M324,5 L325.5,3 L327,5 M335,13 L337,14.5 L335,16" fill="none" stroke="#555" stroke-width="1"/>
<rect x="329" y="3.5" width="3.5" height="7" fill="#22c022" stroke="#118811" stroke-width="0.8"/><line x1="330.8" y1="1.5" x2="330.8" y2="12.5" stroke="#118811" stroke-width="1"/>
<path d="M353.5,3 V16.5 M351,14.5 H365 M352,5 L353.5,3 L355,5 M363,13 L365,14.5 L363,16" fill="none" stroke="#555" stroke-width="1"/>
<path d="M352.5,12.5 Q359,3 364,10" fill="none" stroke="#2aa02a" stroke-width="1.2"/>
<line x1="393.5" y1="11" x2="398.5" y2="16" stroke="#c8a020" stroke-width="2.6"/>
<circle cx="389.5" cy="7" r="5.6" fill="#d8ebf8" stroke="#3a80d0" stroke-width="1.3"/>
<line x1="386.5" y1="7" x2="392.5" y2="7" stroke="#3a80d0" stroke-width="1.6"/>
<line x1="389.5" y1="4" x2="389.5" y2="10" stroke="#3a80d0" stroke-width="1.6"/>
<line x1="421.5" y1="11" x2="426.5" y2="16" stroke="#c8a020" stroke-width="2.6"/>
<circle cx="417.5" cy="7" r="5.6" fill="#d8ebf8" stroke="#3a80d0" stroke-width="1.3"/>
<line x1="414.5" y1="7" x2="420.5" y2="7" stroke="#3a80d0" stroke-width="1.6"/>
<rect x="439" y="1" width="8" height="8" fill="#2aa02a"/><rect x="447" y="1" width="8" height="8" fill="#2a60d0"/><rect x="439" y="9" width="8" height="8" fill="#2a60d0"/><rect x="447" y="9" width="8" height="8" fill="#2aa02a"/>
<rect x="441" y="4" width="5" height="3" fill="none" stroke="#fff" stroke-width="0.8"/>
<rect x="449" y="4" width="5" height="3" fill="none" stroke="#fff" stroke-width="0.8"/>
<rect x="441" y="12" width="5" height="3" fill="none" stroke="#fff" stroke-width="0.8"/>
<rect x="449" y="12" width="5" height="3" fill="none" stroke="#fff" stroke-width="0.8"/>
<path d="M477.5,3 V16.5 M475,14.5 H489 M476,5 L477.5,3 L479,5 M487,13 L489,14.5 L487,16" fill="none" stroke="#555" stroke-width="1"/>
<path d="M482,4.5 L486,8 L482,11.5 Z" fill="none" stroke="#20a020" stroke-width="1.2"/>
<path d="M505.5,3 V16.5 M503,14.5 H517 M504,5 L505.5,3 L507,5 M515,13 L517,14.5 L515,16" fill="none" stroke="#555" stroke-width="1"/>
<line x1="511" y1="3" x2="511" y2="13" stroke="#2a70c0" stroke-width="1.2"/><path d="M517,8.5 H513 M514.5,6.5 L512.5,8.5 L514.5,10.5" fill="none" stroke="#e05020" stroke-width="1.2"/>
<path d="M536.5,1.5 H543 L546.5,5 V14.5 H536.5 Z" fill="#fafafa" stroke="#707070" stroke-width="1"/>
<path d="M541,11 H545 V7 H547.5 V11 H551.5 V13.5 H547.5 V18 H545 V13.5 H541 Z" fill="#1cc41c" stroke="#0e8a0e" stroke-width="0.6"/>
<path d="M557.5,8 H562.5 L560.0,11 Z" fill="#000"/>
<path d="M597,8 H602 L599.5,11 Z" fill="#000"/>
<path d="M636,8 H641 L638.5,11 Z" fill="#000"/>
<path d="M941.5,8 H946.5 L944.0,11 Z" fill="#000"/>
<circle cx="582" cy="9" r="7.5" fill="#1e6ec8"/><circle cx="582" cy="9" r="5.5" fill="#f4f8fc"/><path d="M582,5.5 V9 H584.5" fill="none" stroke="#333" stroke-width="0.9"/>
<rect x="613.5" y="2.5" width="15" height="13" fill="#fff" stroke="#3a70c0" stroke-width="1"/><rect x="613.5" y="2.5" width="15" height="2" fill="#3a70c0"/>
<path d="M615,8 L618,7 L621,8 L624,6.5 L627,7" fill="none" stroke="#b03020" stroke-width="0.9"/><path d="M615,13 L618,12 L621,13 L624,11 L627,12" fill="none" stroke="#20a020" stroke-width="0.9"/>
<path d="M665,2 L673.5,10.5 L669.5,10.5 L671.5,15.5 L669.5,16 L667.5,11.5 L665,14 Z" fill="#555"/>
<path d="M697.5,2 V8 M697.5,11 V17 M690,9.5 H696 M699,9.5 H705" fill="none" stroke="#555" stroke-width="0.55"/>
<line x1="731.5" y1="3" x2="731.5" y2="16" stroke="#555" stroke-width="0.55"/>
<line x1="754" y1="9.5" x2="766" y2="9.5" stroke="#555" stroke-width="0.55"/>
<line x1="782" y1="16" x2="794" y2="4" stroke="#555" stroke-width="0.55"/>
<path d="M808,10 L819,3 M810,15 L821,8 M810,6 L812,14 M814,4 L816,12 M818,2 L820,10" fill="none" stroke="#555" stroke-width="1"/>
<text x="818" y="17.5" font-family="Liberation Sans" font-size="6.5" fill="#555" font-weight="bold" >E</text>
<line x1="837" y1="2.5" x2="850" y2="2.5" stroke="#666" stroke-width="0.9" stroke-dasharray="1,1"/>
<line x1="837" y1="6.5" x2="850" y2="6.5" stroke="#666" stroke-width="0.9" stroke-dasharray="1,1"/>
<line x1="837" y1="10.5" x2="850" y2="10.5" stroke="#666" stroke-width="0.9" stroke-dasharray="1,1"/>
<line x1="837" y1="14" x2="850" y2="14" stroke="#666" stroke-width="0.9" stroke-dasharray="1,1"/>
<text x="846" y="18.5" font-family="Liberation Sans" font-size="6.5" fill="#555" font-weight="bold" >F</text>
<text x="867.5" y="14.3" font-family="Liberation Sans" font-size="11" fill="#555" font-weight="bold" textLength="8.2" lengthAdjust="spacingAndGlyphs" >A</text>
<rect x="893.5" y="2.5" width="12.5" height="13" fill="none" stroke="#666" stroke-width="0.9" stroke-dasharray="1,1"/>
<text x="896" y="13.5" font-family="Liberation Sans" font-size="10.5" fill="#555" font-weight="bold" textLength="7.5" lengthAdjust="spacingAndGlyphs" >T</text>
<path d="M921,5 L924,3 L926,5 L923,7 Z M929,12 L932,10 L935,12 L932,14 Z" fill="#555"/><path d="M923,7 L926,11 L932,5" fill="none" stroke="#555" stroke-width="0.55"/>
<text x="968" y="13.2" font-family="Liberation Sans" font-size="10" fill="#3c3c3c" font-weight="normal" textLength="13.5" lengthAdjust="spacingAndGlyphs" >M1</text>
<text x="996.6" y="13.2" font-family="Liberation Sans" font-size="10" fill="#3c3c3c" font-weight="normal" textLength="12.7" lengthAdjust="spacingAndGlyphs" >M5</text>
<text x="1022.3" y="13.2" font-family="Liberation Sans" font-size="10" fill="#3c3c3c" font-weight="normal" textLength="17.9" lengthAdjust="spacingAndGlyphs" >M15</text>
<text x="1050.7" y="13.2" font-family="Liberation Sans" font-size="10" fill="#3c3c3c" font-weight="normal" textLength="17.7" lengthAdjust="spacingAndGlyphs" >M30</text>
<text x="1081.3" y="13.2" font-family="Liberation Sans" font-size="10" fill="#3c3c3c" font-weight="normal" textLength="11.7" lengthAdjust="spacingAndGlyphs" >H1</text>
<text x="1108.5" y="13.2" font-family="Liberation Sans" font-size="10" fill="#3c3c3c" font-weight="normal" textLength="12.7" lengthAdjust="spacingAndGlyphs" >H4</text>
<text x="1137.4" y="13.2" font-family="Liberation Sans" font-size="10" fill="#3c3c3c" font-weight="normal" textLength="11.6" lengthAdjust="spacingAndGlyphs" >D1</text>
<text x="1165" y="13.2" font-family="Liberation Sans" font-size="10" fill="#3c3c3c" font-weight="normal" textLength="14" lengthAdjust="spacingAndGlyphs" >W1</text>
<text x="1191.8" y="13.2" font-family="Liberation Sans" font-size="10" fill="#3c3c3c" font-weight="normal" textLength="14.4" lengthAdjust="spacingAndGlyphs" >MN</text>
<circle cx="1684.5" cy="6.4" r="3.8" fill="none" stroke="#2a5ad8" stroke-width="1.3"/><line x1="1682" y1="9" x2="1677.5" y2="13.5" stroke="#2a5ad8" stroke-width="2"/>
<ellipse cx="1717" cy="6" rx="6" ry="4.5" fill="#e8e8ee" stroke="#a0a0a8" stroke-width="0.8"/><ellipse cx="1708" cy="10" rx="5" ry="3.6" fill="#e8e8ee" stroke="#a0a0a8" stroke-width="0.8"/>
<path d="M1705.5,13 L1705,15.5 L1708,13.5" fill="#a0a0a8"/><path d="M1719,10 L1720,12.5 L1716.5,10.3" fill="#a0a0a8"/>
<g transform="translate(72.5,3) scale(0.95)" fill="none" stroke="#111" stroke-width="1.158">
<path d="M3,0 V1.5"/>
<path d="M0,2 H6"/>
<path d="M1.2,3 L2,5"/>
<path d="M4.8,3 L4,5"/>
<path d="M0,5.5 H6.5"/>
<path d="M3,5.5 V11"/>
<path d="M0,8 H6"/>
<path d="M2,9 L0,11"/>
<path d="M4,9 L6,10.5"/>
<path d="M11.5,0.3 L7.5,2"/>
<path d="M7.5,2 V7 L6.5,11"/>
<path d="M7.5,5 H12"/>
<path d="M10,5 V11"/>
</g>
<g transform="translate(84.8,3) scale(0.95)" fill="none" stroke="#111" stroke-width="1.158">
<path d="M1,0.5 L2.2,2"/>
<path d="M0,4 H2 V10 L4,8.5"/>
<path d="M5,1 H12"/>
<path d="M9,1 V11 L7.2,10"/>
</g>
<g transform="translate(97,3) scale(0.95)" fill="none" stroke="#111" stroke-width="1.158">
<path d="M3,0 L4,1.3"/>
<path d="M9,0 L8,1.3"/>
<path d="M2,2 H10 V7.5 H2 Z"/>
<path d="M2,4.7 H10"/>
<path d="M6,2 V12"/>
<path d="M0,9.5 H12"/>
</g>
<g transform="translate(224.8,3) scale(0.95)" fill="none" stroke="#111" stroke-width="1.158">
<path d="M6.5,0 L5.5,1.8"/>
<path d="M2,2 H10 V12 H2 Z"/>
<path d="M2,5.3 H10"/>
<path d="M2,8.6 H10"/>
</g>
<g transform="translate(236.5,3) scale(0.95)" fill="none" stroke="#111" stroke-width="1.158">
<path d="M1,1 H5"/>
<path d="M0,4 H6"/>
<path d="M3,4 L0.5,9 H6"/>
<path d="M4.5,7 L6,10"/>
<path d="M6.5,3.5 H11.5 V11 H9.5"/>
<path d="M9,0 V4.5 Q8.5,9 6,11"/>
</g>
<g transform="translate(248.3,3) scale(0.95)" fill="none" stroke="#111" stroke-width="1.158">
<path d="M6,0 V1.5"/>
<path d="M0,2.5 H12"/>
<path d="M4,3.5 L2,6"/>
<path d="M8,3.5 L10,6"/>
<path d="M3,6 L10,12"/>
<path d="M9.5,6 L1.5,12"/>
</g>
<g transform="translate(260,3) scale(0.95)" fill="none" stroke="#111" stroke-width="1.158">
<path d="M2.5,0.5 H9.5 V5.5 H2.5 Z"/>
<path d="M2.5,3 H9.5"/>
<path d="M3.5,6.5 L0.5,9"/>
<path d="M3,7.5 H11.5 V11.5 H9.5"/>
<path d="M6.5,7.5 L3.5,11.5"/>
<path d="M9.5,7.5 L6.5,11.5"/>
</g>
</g>
<defs><linearGradient id="gtop" x1="0" y1="0" x2="0" y2="1"><stop offset="0" stop-color="#f95e5e"/><stop offset="1" stop-color="#e03636"/></linearGradient>
<linearGradient id="gbot" x1="0" y1="0" x2="0" y2="1"><stop offset="0" stop-color="#e33b3b"/><stop offset="1" stop-color="#b00404"/></linearGradient>
<linearGradient id="gbtn" x1="0" y1="0" x2="0" y2="1"><stop offset="0" stop-color="#f2f2f2"/><stop offset="1" stop-color="#d4d4d4"/></linearGradient></defs>
<rect x="0" y="44" width="215" height="67" fill="#fff"/>
<rect x="-1" y="45" width="48" height="25" fill="url(#gtop)" stroke="#b80000" stroke-width="0.8"/>
<rect x="0" y="68" width="43" height="1" fill="#8a0000"/>
<rect x="162" y="45" width="52" height="25" fill="url(#gtop)" stroke="#b80000" stroke-width="0.8"/>
<rect x="166" y="68" width="44" height="1" fill="#8a0000"/>
<rect x="-1" y="69" width="105" height="40" fill="url(#gbot)"/>
<rect x="106" y="69" width="108" height="40" fill="url(#gbot)"/>
<rect x="49.5" y="45.5" width="110" height="21" fill="#fff" stroke="#a8a8b0" stroke-width="1"/>
<rect x="50.5" y="46.5" width="19" height="19" fill="url(#gbtn)" stroke="#c0c0c8" stroke-width="0.8"/>
<rect x="139" y="46.5" width="20" height="19" fill="url(#gbtn)" stroke="#c0c0c8" stroke-width="0.8"/>
<path d="M57,54 H62 L59.5,56.5 Z" fill="#4a60c0"/>
<path d="M146,56.5 H151 L148.5,54 Z" fill="#4a60c0"/>
<text x="111.9" y="59.8" font-family="Liberation Sans" font-size="12" fill="#000" font-weight="normal" textLength="22.9" lengthAdjust="spacingAndGlyphs" >1.00</text>
<text x="7.4" y="60.9" font-family="Liberation Sans" font-size="11.7" fill="#fff" font-weight="normal" textLength="25.6" lengthAdjust="spacingAndGlyphs" >SELL</text>
<text x="175.6" y="60.9" font-family="Liberation Sans" font-size="11.7" fill="#fff" font-weight="normal" textLength="23.3" lengthAdjust="spacingAndGlyphs" >BUY</text>
<text x="15.2" y="99.8" font-family="Liberation Sans" font-size="11.5" fill="#fff" font-weight="bold" textLength="23.3" lengthAdjust="spacingAndGlyphs" >6.63</text>
<text x="43" y="99.8" font-family="Liberation Sans" font-size="33" fill="#fff" font-weight="normal" textLength="33.3" lengthAdjust="spacingAndGlyphs" stroke="url(#gbot)" stroke-width="0.55">70</text>
<text x="81.9" y="84.2" font-family="Liberation Sans" font-size="11.5" fill="#fff" font-weight="bold" textLength="7" lengthAdjust="spacingAndGlyphs" >0</text>
<text x="125.2" y="99.8" font-family="Liberation Sans" font-size="11.5" fill="#fff" font-weight="bold" textLength="23.7" lengthAdjust="spacingAndGlyphs" >6.64</text>
<text x="155.2" y="99.8" font-family="Liberation Sans" font-size="33" fill="#fff" font-weight="normal" textLength="31.8" lengthAdjust="spacingAndGlyphs" stroke="url(#gbot)" stroke-width="0.55">53</text>
<text x="193.3" y="84.2" font-family="Liberation Sans" font-size="11.5" fill="#fff" font-weight="bold" textLength="6.3" lengthAdjust="spacingAndGlyphs" >2</text>
</svg>
</body></html>
